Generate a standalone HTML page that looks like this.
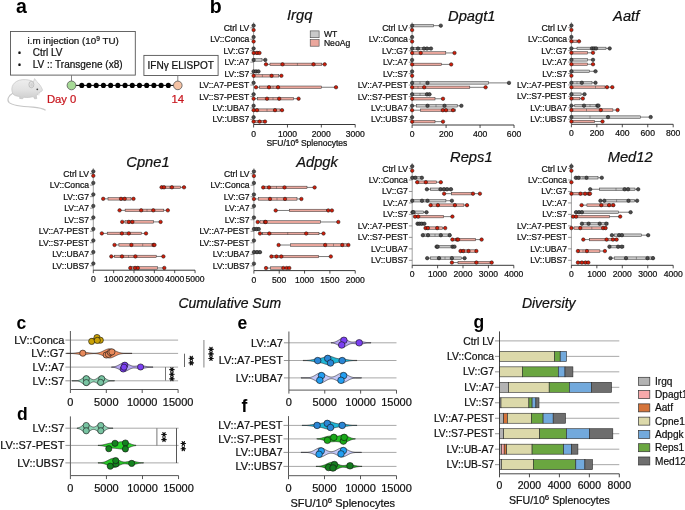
<!DOCTYPE html>
<html><head><meta charset="utf-8"><title>Figure</title>
<style>
html,body{margin:0;padding:0;background:#fff;}
body{width:685px;height:510px;overflow:hidden;}
svg{display:block;font-family:"Liberation Sans", sans-serif;will-change:transform;}
</style></head>
<body>
<svg width="685" height="510" viewBox="0 0 685 510">
<rect x="0" y="0" width="685" height="510" fill="#fff"/>
<text x="16.00" y="13.00" font-size="19.5" text-anchor="start" font-weight="bold" font-style="normal" fill="#000" stroke="#000" stroke-width="0" >a</text>
<rect x="10.50" y="31.50" width="124.80" height="43.60" fill="#fff" stroke="#555" stroke-width="0.9" />
<text x="27.6" y="44.4" font-size="9.8" fill="#111" stroke="#111" stroke-width="0.22">i.m injection (10<tspan font-size="6.6" dy="-3.6">9</tspan><tspan dy="3.6"> TU)</tspan></text>
<text x="19.40" y="56.00" font-size="8.5" text-anchor="middle" font-weight="normal" font-style="normal" fill="#111" stroke="#111" stroke-width="0.22" >•</text>
<text x="32.70" y="55.90" font-size="10" text-anchor="start" font-weight="normal" font-style="normal" fill="#111" stroke="#111" stroke-width="0.22" >Ctrl LV</text>
<text x="19.40" y="67.80" font-size="8.5" text-anchor="middle" font-weight="normal" font-style="normal" fill="#111" stroke="#111" stroke-width="0.22" >•</text>
<text x="32.70" y="67.60" font-size="10" text-anchor="start" font-weight="normal" font-style="normal" fill="#111" stroke="#111" stroke-width="0.22" >LV :: Transgene (x8)</text>
<rect x="143.90" y="55.40" width="74.20" height="20.10" fill="#fff" stroke="#555" stroke-width="0.9" />
<text x="180.70" y="68.60" font-size="10.05" text-anchor="middle" font-weight="normal" font-style="normal" fill="#111" stroke="#111" stroke-width="0.22" >IFNγ ELISPOT</text>
<line x1="71.50" y1="75.10" x2="71.50" y2="81.00" stroke="#777" stroke-width="0.9" />
<line x1="177.80" y1="75.50" x2="177.80" y2="81.00" stroke="#777" stroke-width="0.9" />
<line x1="71.50" y1="85.40" x2="177.80" y2="85.40" stroke="#000" stroke-width="1.0" />
<circle cx="81.80" cy="85.40" r="2.55" fill="#000" stroke="none" stroke-width="0.5"/>
<circle cx="89.01" cy="85.40" r="2.55" fill="#000" stroke="none" stroke-width="0.5"/>
<circle cx="96.22" cy="85.40" r="2.55" fill="#000" stroke="none" stroke-width="0.5"/>
<circle cx="103.43" cy="85.40" r="2.55" fill="#000" stroke="none" stroke-width="0.5"/>
<circle cx="110.64" cy="85.40" r="2.55" fill="#000" stroke="none" stroke-width="0.5"/>
<circle cx="117.85" cy="85.40" r="2.55" fill="#000" stroke="none" stroke-width="0.5"/>
<circle cx="125.06" cy="85.40" r="2.55" fill="#000" stroke="none" stroke-width="0.5"/>
<circle cx="132.27" cy="85.40" r="2.55" fill="#000" stroke="none" stroke-width="0.5"/>
<circle cx="139.48" cy="85.40" r="2.55" fill="#000" stroke="none" stroke-width="0.5"/>
<circle cx="146.69" cy="85.40" r="2.55" fill="#000" stroke="none" stroke-width="0.5"/>
<circle cx="153.90" cy="85.40" r="2.55" fill="#000" stroke="none" stroke-width="0.5"/>
<circle cx="161.11" cy="85.40" r="2.55" fill="#000" stroke="none" stroke-width="0.5"/>
<circle cx="168.32" cy="85.40" r="2.55" fill="#000" stroke="none" stroke-width="0.5"/>
<circle cx="71.50" cy="85.40" r="4.40" fill="#a6d996" stroke="#555" stroke-width="0.8"/>
<circle cx="177.80" cy="85.40" r="4.30" fill="#f5c2a4" stroke="#555" stroke-width="0.8"/>
<text x="46.90" y="103.30" font-size="11.3" text-anchor="start" font-weight="normal" font-style="normal" fill="#c8161e" stroke="#c8161e" stroke-width="0.22" >Day 0</text>
<text x="177.80" y="103.00" font-size="11.3" text-anchor="middle" font-weight="normal" font-style="normal" fill="#c8161e" stroke="#c8161e" stroke-width="0.22" >14</text>
<defs><linearGradient id="mg" x1="0" y1="0" x2="0" y2="1">
<stop offset="0" stop-color="#efefef"/><stop offset="0.55" stop-color="#e2e2e2"/><stop offset="1" stop-color="#cdcdcd"/></linearGradient></defs>
<g>
  <path d="M12.8,93.2 C8.2,95.6 6.6,100 9.2,102.6 C13,106 24,106.6 33,107.1 C39,107.6 43,108.6 45.6,110.2" fill="none" stroke="#c6c6c6" stroke-width="1.1"/>
  <path d="M13,94 C9.5,87 14,80.5 22,79.7 C27,79.2 31,80.3 33.5,81.8 L34.6,78.6 L36.6,81.4 C39,83.5 41.3,86.5 42.4,89.6 C42.7,90.8 41.6,91.6 40,92 C38.8,93.6 37.6,94.8 36.2,95.6 L36.8,98.6 L34.6,98.8 L33.4,96.6 C30,97.6 27,97.8 24,97.2 L22.6,98.8 L19.6,98.4 L19.8,96.6 C16.5,96.2 14,95.4 13,94 Z" fill="url(#mg)" stroke="#bdbdbd" stroke-width="0.6"/>
  <ellipse cx="31.4" cy="84.6" rx="2.5" ry="3.2" fill="#e4e4e4" stroke="#aaaaaa" stroke-width="0.6"/>
  <ellipse cx="31.6" cy="84.9" rx="1.3" ry="1.9" fill="#d2d2d2"/>
  <circle cx="37.3" cy="89.3" r="0.9" fill="#444"/>
  <path d="M37.6,93.6 L39.4,93.2 L38.9,95.4 Z" fill="#fafafa" stroke="#bbb" stroke-width="0.3"/>
</g>
<text x="209.80" y="12.90" font-size="19.5" text-anchor="start" font-weight="bold" font-style="normal" fill="#000" stroke="#000" stroke-width="0" >b</text>
<text x="287.00" y="19.60" font-size="14.7" text-anchor="start" font-weight="normal" font-style="italic" fill="#111" stroke="#111" stroke-width="0.22" >Irgq</text>
<line x1="253.60" y1="22.30" x2="253.60" y2="124.50" stroke="#8a8a8a" stroke-width="0.8" />
<line x1="250.30" y1="27.80" x2="253.60" y2="27.80" stroke="#666" stroke-width="0.7" />
<text x="249.30" y="30.80" font-size="8.6" text-anchor="end" font-weight="normal" font-style="normal" fill="#111" stroke="#111" stroke-width="0.22" >Ctrl LV</text>
<line x1="250.30" y1="39.25" x2="253.60" y2="39.25" stroke="#666" stroke-width="0.7" />
<text x="249.30" y="42.25" font-size="8.6" text-anchor="end" font-weight="normal" font-style="normal" fill="#111" stroke="#111" stroke-width="0.22" >LV::Conca</text>
<line x1="250.30" y1="50.70" x2="253.60" y2="50.70" stroke="#666" stroke-width="0.7" />
<text x="249.30" y="53.70" font-size="8.6" text-anchor="end" font-weight="normal" font-style="normal" fill="#111" stroke="#111" stroke-width="0.22" >LV::G7</text>
<line x1="250.30" y1="62.15" x2="253.60" y2="62.15" stroke="#666" stroke-width="0.7" />
<text x="249.30" y="65.15" font-size="8.6" text-anchor="end" font-weight="normal" font-style="normal" fill="#111" stroke="#111" stroke-width="0.22" >LV::A7</text>
<line x1="250.30" y1="73.60" x2="253.60" y2="73.60" stroke="#666" stroke-width="0.7" />
<text x="249.30" y="76.60" font-size="8.6" text-anchor="end" font-weight="normal" font-style="normal" fill="#111" stroke="#111" stroke-width="0.22" >LV::S7</text>
<line x1="250.30" y1="85.05" x2="253.60" y2="85.05" stroke="#666" stroke-width="0.7" />
<text x="249.30" y="88.05" font-size="8.6" text-anchor="end" font-weight="normal" font-style="normal" fill="#111" stroke="#111" stroke-width="0.22" >LV::A7-PEST</text>
<line x1="250.30" y1="96.50" x2="253.60" y2="96.50" stroke="#666" stroke-width="0.7" />
<text x="249.30" y="99.50" font-size="8.6" text-anchor="end" font-weight="normal" font-style="normal" fill="#111" stroke="#111" stroke-width="0.22" >LV::S7-PEST</text>
<line x1="250.30" y1="107.95" x2="253.60" y2="107.95" stroke="#666" stroke-width="0.7" />
<text x="249.30" y="110.95" font-size="8.6" text-anchor="end" font-weight="normal" font-style="normal" fill="#111" stroke="#111" stroke-width="0.22" >LV::UBA7</text>
<line x1="250.30" y1="119.40" x2="253.60" y2="119.40" stroke="#666" stroke-width="0.7" />
<text x="249.30" y="122.40" font-size="8.6" text-anchor="end" font-weight="normal" font-style="normal" fill="#111" stroke="#111" stroke-width="0.22" >LV::UBS7</text>
<line x1="253.60" y1="124.50" x2="355.21" y2="124.50" stroke="#222" stroke-width="0.9" />
<line x1="253.60" y1="124.50" x2="253.60" y2="127.50" stroke="#222" stroke-width="0.8" />
<text x="253.60" y="136.50" font-size="8.6" text-anchor="middle" font-weight="normal" font-style="normal" fill="#111" stroke="#111" stroke-width="0.22" >0</text>
<line x1="287.47" y1="124.50" x2="287.47" y2="127.50" stroke="#222" stroke-width="0.8" />
<text x="287.47" y="136.50" font-size="8.6" text-anchor="middle" font-weight="normal" font-style="normal" fill="#111" stroke="#111" stroke-width="0.22" >1000</text>
<line x1="321.34" y1="124.50" x2="321.34" y2="127.50" stroke="#222" stroke-width="0.8" />
<text x="321.34" y="136.50" font-size="8.6" text-anchor="middle" font-weight="normal" font-style="normal" fill="#111" stroke="#111" stroke-width="0.22" >2000</text>
<line x1="355.21" y1="124.50" x2="355.21" y2="127.50" stroke="#222" stroke-width="0.8" />
<text x="355.21" y="136.50" font-size="8.6" text-anchor="middle" font-weight="normal" font-style="normal" fill="#111" stroke="#111" stroke-width="0.22" >3000</text>
<circle cx="253.60" cy="25.60" r="1.75" fill="#4d4d4d" stroke="#111" stroke-width="0.5"/>
<circle cx="253.60" cy="30.00" r="1.75" fill="#d01e0a" stroke="#111" stroke-width="0.5"/>
<circle cx="253.60" cy="37.05" r="1.75" fill="#4d4d4d" stroke="#111" stroke-width="0.5"/>
<circle cx="253.60" cy="41.45" r="1.75" fill="#d01e0a" stroke="#111" stroke-width="0.5"/>
<circle cx="253.60" cy="48.50" r="1.75" fill="#4d4d4d" stroke="#111" stroke-width="0.5"/>
<rect x="253.60" y="51.65" width="5.40" height="2.50" fill="#eba79d" stroke="#333" stroke-width="0.5" />
<circle cx="253.60" cy="52.90" r="1.75" fill="#d01e0a" stroke="#111" stroke-width="0.5"/>
<circle cx="257.00" cy="52.90" r="1.75" fill="#d01e0a" stroke="#111" stroke-width="0.5"/>
<circle cx="259.50" cy="52.90" r="1.75" fill="#d01e0a" stroke="#111" stroke-width="0.5"/>
<line x1="253.60" y1="59.95" x2="265.30" y2="59.95" stroke="#444" stroke-width="0.7" />
<rect x="253.60" y="58.70" width="8.40" height="2.50" fill="#c9c9c9" stroke="#333" stroke-width="0.5" />
<circle cx="253.60" cy="59.95" r="1.75" fill="#4d4d4d" stroke="#111" stroke-width="0.5"/>
<circle cx="265.30" cy="59.95" r="1.75" fill="#4d4d4d" stroke="#111" stroke-width="0.5"/>
<line x1="266.00" y1="64.35" x2="324.70" y2="64.35" stroke="#444" stroke-width="0.7" />
<rect x="270.00" y="63.10" width="51.80" height="2.50" fill="#eba79d" stroke="#333" stroke-width="0.5" />
<line x1="297.40" y1="63.10" x2="297.40" y2="65.60" stroke="#444" stroke-width="0.5" />
<circle cx="266.00" cy="64.35" r="1.75" fill="#d01e0a" stroke="#111" stroke-width="0.5"/>
<circle cx="282.50" cy="64.35" r="1.75" fill="#d01e0a" stroke="#111" stroke-width="0.5"/>
<circle cx="313.50" cy="64.35" r="1.75" fill="#d01e0a" stroke="#111" stroke-width="0.5"/>
<circle cx="324.70" cy="64.35" r="1.75" fill="#d01e0a" stroke="#111" stroke-width="0.5"/>
<rect x="253.60" y="70.15" width="4.40" height="2.50" fill="#c9c9c9" stroke="#333" stroke-width="0.5" />
<circle cx="253.60" cy="71.40" r="1.75" fill="#4d4d4d" stroke="#111" stroke-width="0.5"/>
<circle cx="256.00" cy="71.40" r="1.75" fill="#4d4d4d" stroke="#111" stroke-width="0.5"/>
<circle cx="258.50" cy="71.40" r="1.75" fill="#4d4d4d" stroke="#111" stroke-width="0.5"/>
<line x1="253.60" y1="75.80" x2="281.40" y2="75.80" stroke="#444" stroke-width="0.7" />
<rect x="253.60" y="74.55" width="25.20" height="2.50" fill="#eba79d" stroke="#333" stroke-width="0.5" />
<line x1="262.40" y1="74.55" x2="262.40" y2="77.05" stroke="#444" stroke-width="0.5" />
<circle cx="253.60" cy="75.80" r="1.75" fill="#d01e0a" stroke="#111" stroke-width="0.5"/>
<circle cx="271.60" cy="75.80" r="1.75" fill="#d01e0a" stroke="#111" stroke-width="0.5"/>
<circle cx="281.40" cy="75.80" r="1.75" fill="#d01e0a" stroke="#111" stroke-width="0.5"/>
<circle cx="253.60" cy="82.85" r="1.75" fill="#4d4d4d" stroke="#111" stroke-width="0.5"/>
<line x1="256.00" y1="87.25" x2="336.00" y2="87.25" stroke="#444" stroke-width="0.7" />
<rect x="259.50" y="86.00" width="62.00" height="2.50" fill="#eba79d" stroke="#333" stroke-width="0.5" />
<line x1="273.00" y1="86.00" x2="273.00" y2="88.50" stroke="#444" stroke-width="0.5" />
<circle cx="256.00" cy="87.25" r="1.75" fill="#d01e0a" stroke="#111" stroke-width="0.5"/>
<circle cx="269.00" cy="87.25" r="1.75" fill="#d01e0a" stroke="#111" stroke-width="0.5"/>
<circle cx="278.00" cy="87.25" r="1.75" fill="#d01e0a" stroke="#111" stroke-width="0.5"/>
<circle cx="336.00" cy="87.25" r="1.75" fill="#d01e0a" stroke="#111" stroke-width="0.5"/>
<circle cx="253.60" cy="94.30" r="1.75" fill="#4d4d4d" stroke="#111" stroke-width="0.5"/>
<line x1="253.60" y1="98.70" x2="298.60" y2="98.70" stroke="#444" stroke-width="0.7" />
<rect x="257.30" y="97.45" width="36.40" height="2.50" fill="#eba79d" stroke="#333" stroke-width="0.5" />
<line x1="273.00" y1="97.45" x2="273.00" y2="99.95" stroke="#444" stroke-width="0.5" />
<circle cx="253.60" cy="98.70" r="1.75" fill="#d01e0a" stroke="#111" stroke-width="0.5"/>
<circle cx="267.00" cy="98.70" r="1.75" fill="#d01e0a" stroke="#111" stroke-width="0.5"/>
<circle cx="279.20" cy="98.70" r="1.75" fill="#d01e0a" stroke="#111" stroke-width="0.5"/>
<circle cx="298.60" cy="98.70" r="1.75" fill="#d01e0a" stroke="#111" stroke-width="0.5"/>
<circle cx="253.60" cy="105.75" r="1.75" fill="#4d4d4d" stroke="#111" stroke-width="0.5"/>
<line x1="253.60" y1="110.15" x2="282.00" y2="110.15" stroke="#444" stroke-width="0.7" />
<rect x="253.60" y="108.90" width="26.40" height="2.50" fill="#eba79d" stroke="#333" stroke-width="0.5" />
<line x1="267.00" y1="108.90" x2="267.00" y2="111.40" stroke="#444" stroke-width="0.5" />
<circle cx="253.60" cy="110.15" r="1.75" fill="#d01e0a" stroke="#111" stroke-width="0.5"/>
<circle cx="257.00" cy="110.15" r="1.75" fill="#d01e0a" stroke="#111" stroke-width="0.5"/>
<circle cx="275.00" cy="110.15" r="1.75" fill="#d01e0a" stroke="#111" stroke-width="0.5"/>
<circle cx="282.00" cy="110.15" r="1.75" fill="#d01e0a" stroke="#111" stroke-width="0.5"/>
<circle cx="253.60" cy="117.20" r="1.75" fill="#4d4d4d" stroke="#111" stroke-width="0.5"/>
<rect x="253.60" y="120.35" width="11.40" height="2.50" fill="#eba79d" stroke="#333" stroke-width="0.5" />
<line x1="258.00" y1="120.35" x2="258.00" y2="122.85" stroke="#444" stroke-width="0.5" />
<circle cx="253.60" cy="121.60" r="1.75" fill="#d01e0a" stroke="#111" stroke-width="0.5"/>
<circle cx="259.60" cy="121.60" r="1.75" fill="#d01e0a" stroke="#111" stroke-width="0.5"/>
<circle cx="265.00" cy="121.60" r="1.75" fill="#d01e0a" stroke="#111" stroke-width="0.5"/>
<text x="448.10" y="20.60" font-size="14.7" text-anchor="start" font-weight="normal" font-style="italic" fill="#111" stroke="#111" stroke-width="0.22" >Dpagt1</text>
<line x1="412.10" y1="22.35" x2="412.10" y2="125.00" stroke="#8a8a8a" stroke-width="0.8" />
<line x1="408.80" y1="27.85" x2="412.10" y2="27.85" stroke="#666" stroke-width="0.7" />
<text x="407.80" y="30.85" font-size="8.6" text-anchor="end" font-weight="normal" font-style="normal" fill="#111" stroke="#111" stroke-width="0.22" >Ctrl LV</text>
<line x1="408.80" y1="39.30" x2="412.10" y2="39.30" stroke="#666" stroke-width="0.7" />
<text x="407.80" y="42.30" font-size="8.6" text-anchor="end" font-weight="normal" font-style="normal" fill="#111" stroke="#111" stroke-width="0.22" >LV::Conca</text>
<line x1="408.80" y1="50.75" x2="412.10" y2="50.75" stroke="#666" stroke-width="0.7" />
<text x="407.80" y="53.75" font-size="8.6" text-anchor="end" font-weight="normal" font-style="normal" fill="#111" stroke="#111" stroke-width="0.22" >LV::G7</text>
<line x1="408.80" y1="62.20" x2="412.10" y2="62.20" stroke="#666" stroke-width="0.7" />
<text x="407.80" y="65.20" font-size="8.6" text-anchor="end" font-weight="normal" font-style="normal" fill="#111" stroke="#111" stroke-width="0.22" >LV::A7</text>
<line x1="408.80" y1="73.65" x2="412.10" y2="73.65" stroke="#666" stroke-width="0.7" />
<text x="407.80" y="76.65" font-size="8.6" text-anchor="end" font-weight="normal" font-style="normal" fill="#111" stroke="#111" stroke-width="0.22" >LV::S7</text>
<line x1="408.80" y1="85.10" x2="412.10" y2="85.10" stroke="#666" stroke-width="0.7" />
<text x="407.80" y="88.10" font-size="8.6" text-anchor="end" font-weight="normal" font-style="normal" fill="#111" stroke="#111" stroke-width="0.22" >LV::A7-PEST</text>
<line x1="408.80" y1="96.55" x2="412.10" y2="96.55" stroke="#666" stroke-width="0.7" />
<text x="407.80" y="99.55" font-size="8.6" text-anchor="end" font-weight="normal" font-style="normal" fill="#111" stroke="#111" stroke-width="0.22" >LV::S7-PEST</text>
<line x1="408.80" y1="108.00" x2="412.10" y2="108.00" stroke="#666" stroke-width="0.7" />
<text x="407.80" y="111.00" font-size="8.6" text-anchor="end" font-weight="normal" font-style="normal" fill="#111" stroke="#111" stroke-width="0.22" >LV::UBA7</text>
<line x1="408.80" y1="119.45" x2="412.10" y2="119.45" stroke="#666" stroke-width="0.7" />
<text x="407.80" y="122.45" font-size="8.6" text-anchor="end" font-weight="normal" font-style="normal" fill="#111" stroke="#111" stroke-width="0.22" >LV::UBS7</text>
<line x1="412.10" y1="125.00" x2="514.04" y2="125.00" stroke="#222" stroke-width="0.9" />
<line x1="412.10" y1="125.00" x2="412.10" y2="128.00" stroke="#222" stroke-width="0.8" />
<text x="412.10" y="137.00" font-size="8.6" text-anchor="middle" font-weight="normal" font-style="normal" fill="#111" stroke="#111" stroke-width="0.22" >0</text>
<line x1="446.08" y1="125.00" x2="446.08" y2="128.00" stroke="#222" stroke-width="0.8" />
<text x="446.08" y="137.00" font-size="8.6" text-anchor="middle" font-weight="normal" font-style="normal" fill="#111" stroke="#111" stroke-width="0.22" >200</text>
<line x1="480.06" y1="125.00" x2="480.06" y2="128.00" stroke="#222" stroke-width="0.8" />
<text x="480.06" y="137.00" font-size="8.6" text-anchor="middle" font-weight="normal" font-style="normal" fill="#111" stroke="#111" stroke-width="0.22" >400</text>
<line x1="514.04" y1="125.00" x2="514.04" y2="128.00" stroke="#222" stroke-width="0.8" />
<text x="514.04" y="137.00" font-size="8.6" text-anchor="middle" font-weight="normal" font-style="normal" fill="#111" stroke="#111" stroke-width="0.22" >600</text>
<line x1="412.10" y1="25.65" x2="440.80" y2="25.65" stroke="#444" stroke-width="0.7" />
<rect x="412.10" y="24.40" width="21.40" height="2.50" fill="#c9c9c9" stroke="#333" stroke-width="0.5" />
<circle cx="412.10" cy="25.65" r="1.75" fill="#4d4d4d" stroke="#111" stroke-width="0.5"/>
<circle cx="440.80" cy="25.65" r="1.75" fill="#4d4d4d" stroke="#111" stroke-width="0.5"/>
<circle cx="412.10" cy="30.05" r="1.75" fill="#d01e0a" stroke="#111" stroke-width="0.5"/>
<circle cx="412.10" cy="37.10" r="1.75" fill="#4d4d4d" stroke="#111" stroke-width="0.5"/>
<circle cx="412.10" cy="41.50" r="1.75" fill="#d01e0a" stroke="#111" stroke-width="0.5"/>
<rect x="412.10" y="47.30" width="18.10" height="2.50" fill="#c9c9c9" stroke="#333" stroke-width="0.5" />
<circle cx="412.10" cy="48.55" r="1.75" fill="#4d4d4d" stroke="#111" stroke-width="0.5"/>
<circle cx="418.00" cy="48.55" r="1.75" fill="#4d4d4d" stroke="#111" stroke-width="0.5"/>
<circle cx="424.00" cy="48.55" r="1.75" fill="#4d4d4d" stroke="#111" stroke-width="0.5"/>
<circle cx="427.00" cy="48.55" r="1.75" fill="#4d4d4d" stroke="#111" stroke-width="0.5"/>
<circle cx="431.00" cy="48.55" r="1.75" fill="#4d4d4d" stroke="#111" stroke-width="0.5"/>
<line x1="412.10" y1="52.95" x2="454.50" y2="52.95" stroke="#444" stroke-width="0.7" />
<rect x="412.10" y="51.70" width="33.70" height="2.50" fill="#eba79d" stroke="#333" stroke-width="0.5" />
<circle cx="412.10" cy="52.95" r="1.75" fill="#d01e0a" stroke="#111" stroke-width="0.5"/>
<circle cx="420.70" cy="52.95" r="1.75" fill="#d01e0a" stroke="#111" stroke-width="0.5"/>
<circle cx="454.50" cy="52.95" r="1.75" fill="#d01e0a" stroke="#111" stroke-width="0.5"/>
<circle cx="412.10" cy="60.00" r="1.75" fill="#4d4d4d" stroke="#111" stroke-width="0.5"/>
<line x1="412.10" y1="64.40" x2="451.20" y2="64.40" stroke="#444" stroke-width="0.7" />
<rect x="412.10" y="63.15" width="29.30" height="2.50" fill="#eba79d" stroke="#333" stroke-width="0.5" />
<circle cx="412.10" cy="64.40" r="1.75" fill="#d01e0a" stroke="#111" stroke-width="0.5"/>
<circle cx="451.20" cy="64.40" r="1.75" fill="#d01e0a" stroke="#111" stroke-width="0.5"/>
<circle cx="412.10" cy="71.45" r="1.75" fill="#4d4d4d" stroke="#111" stroke-width="0.5"/>
<circle cx="412.10" cy="75.85" r="1.75" fill="#d01e0a" stroke="#111" stroke-width="0.5"/>
<line x1="412.10" y1="82.90" x2="509.00" y2="82.90" stroke="#444" stroke-width="0.7" />
<rect x="412.10" y="81.65" width="76.30" height="2.50" fill="#c9c9c9" stroke="#333" stroke-width="0.5" />
<line x1="420.00" y1="81.65" x2="420.00" y2="84.15" stroke="#444" stroke-width="0.5" />
<circle cx="412.10" cy="82.90" r="1.75" fill="#4d4d4d" stroke="#111" stroke-width="0.5"/>
<circle cx="427.50" cy="82.90" r="1.75" fill="#4d4d4d" stroke="#111" stroke-width="0.5"/>
<circle cx="509.00" cy="82.90" r="1.75" fill="#4d4d4d" stroke="#111" stroke-width="0.5"/>
<line x1="412.10" y1="87.30" x2="485.60" y2="87.30" stroke="#444" stroke-width="0.7" />
<rect x="412.10" y="86.05" width="57.70" height="2.50" fill="#eba79d" stroke="#333" stroke-width="0.5" />
<line x1="418.00" y1="86.05" x2="418.00" y2="88.55" stroke="#444" stroke-width="0.5" />
<circle cx="412.10" cy="87.30" r="1.75" fill="#d01e0a" stroke="#111" stroke-width="0.5"/>
<circle cx="424.20" cy="87.30" r="1.75" fill="#d01e0a" stroke="#111" stroke-width="0.5"/>
<circle cx="485.60" cy="87.30" r="1.75" fill="#d01e0a" stroke="#111" stroke-width="0.5"/>
<rect x="412.10" y="93.10" width="18.40" height="2.50" fill="#c9c9c9" stroke="#333" stroke-width="0.5" />
<line x1="420.00" y1="93.10" x2="420.00" y2="95.60" stroke="#444" stroke-width="0.5" />
<circle cx="412.10" cy="94.35" r="1.75" fill="#4d4d4d" stroke="#111" stroke-width="0.5"/>
<circle cx="427.00" cy="94.35" r="1.75" fill="#4d4d4d" stroke="#111" stroke-width="0.5"/>
<circle cx="429.50" cy="94.35" r="1.75" fill="#4d4d4d" stroke="#111" stroke-width="0.5"/>
<line x1="412.10" y1="98.75" x2="443.00" y2="98.75" stroke="#444" stroke-width="0.7" />
<rect x="412.10" y="97.50" width="22.90" height="2.50" fill="#eba79d" stroke="#333" stroke-width="0.5" />
<circle cx="412.10" cy="98.75" r="1.75" fill="#d01e0a" stroke="#111" stroke-width="0.5"/>
<circle cx="443.00" cy="98.75" r="1.75" fill="#d01e0a" stroke="#111" stroke-width="0.5"/>
<line x1="412.10" y1="105.80" x2="461.40" y2="105.80" stroke="#444" stroke-width="0.7" />
<rect x="416.30" y="104.55" width="40.90" height="2.50" fill="#c9c9c9" stroke="#333" stroke-width="0.5" />
<line x1="436.00" y1="104.55" x2="436.00" y2="107.05" stroke="#444" stroke-width="0.5" />
<circle cx="412.10" cy="105.80" r="1.75" fill="#4d4d4d" stroke="#111" stroke-width="0.5"/>
<circle cx="427.50" cy="105.80" r="1.75" fill="#4d4d4d" stroke="#111" stroke-width="0.5"/>
<circle cx="444.50" cy="105.80" r="1.75" fill="#4d4d4d" stroke="#111" stroke-width="0.5"/>
<circle cx="461.40" cy="105.80" r="1.75" fill="#4d4d4d" stroke="#111" stroke-width="0.5"/>
<line x1="412.10" y1="110.20" x2="455.50" y2="110.20" stroke="#444" stroke-width="0.7" />
<rect x="420.40" y="108.95" width="35.10" height="2.50" fill="#eba79d" stroke="#333" stroke-width="0.5" />
<circle cx="412.10" cy="110.20" r="1.75" fill="#d01e0a" stroke="#111" stroke-width="0.5"/>
<circle cx="442.80" cy="110.20" r="1.75" fill="#d01e0a" stroke="#111" stroke-width="0.5"/>
<circle cx="446.00" cy="110.20" r="1.75" fill="#d01e0a" stroke="#111" stroke-width="0.5"/>
<circle cx="453.00" cy="110.20" r="1.75" fill="#d01e0a" stroke="#111" stroke-width="0.5"/>
<circle cx="412.10" cy="117.25" r="1.75" fill="#4d4d4d" stroke="#111" stroke-width="0.5"/>
<line x1="412.10" y1="121.65" x2="443.00" y2="121.65" stroke="#444" stroke-width="0.7" />
<rect x="412.10" y="120.40" width="22.90" height="2.50" fill="#eba79d" stroke="#333" stroke-width="0.5" />
<circle cx="412.10" cy="121.65" r="1.75" fill="#d01e0a" stroke="#111" stroke-width="0.5"/>
<circle cx="443.00" cy="121.65" r="1.75" fill="#d01e0a" stroke="#111" stroke-width="0.5"/>
<text x="613.10" y="20.80" font-size="14.7" text-anchor="start" font-weight="normal" font-style="italic" fill="#111" stroke="#111" stroke-width="0.22" >Aatf</text>
<line x1="571.40" y1="22.20" x2="571.40" y2="124.30" stroke="#8a8a8a" stroke-width="0.8" />
<line x1="568.10" y1="27.70" x2="571.40" y2="27.70" stroke="#666" stroke-width="0.7" />
<text x="567.10" y="30.70" font-size="8.6" text-anchor="end" font-weight="normal" font-style="normal" fill="#111" stroke="#111" stroke-width="0.22" >Ctrl LV</text>
<line x1="568.10" y1="39.15" x2="571.40" y2="39.15" stroke="#666" stroke-width="0.7" />
<text x="567.10" y="42.15" font-size="8.6" text-anchor="end" font-weight="normal" font-style="normal" fill="#111" stroke="#111" stroke-width="0.22" >LV::Conca</text>
<line x1="568.10" y1="50.60" x2="571.40" y2="50.60" stroke="#666" stroke-width="0.7" />
<text x="567.10" y="53.60" font-size="8.6" text-anchor="end" font-weight="normal" font-style="normal" fill="#111" stroke="#111" stroke-width="0.22" >LV::G7</text>
<line x1="568.10" y1="62.05" x2="571.40" y2="62.05" stroke="#666" stroke-width="0.7" />
<text x="567.10" y="65.05" font-size="8.6" text-anchor="end" font-weight="normal" font-style="normal" fill="#111" stroke="#111" stroke-width="0.22" >LV::A7</text>
<line x1="568.10" y1="73.50" x2="571.40" y2="73.50" stroke="#666" stroke-width="0.7" />
<text x="567.10" y="76.50" font-size="8.6" text-anchor="end" font-weight="normal" font-style="normal" fill="#111" stroke="#111" stroke-width="0.22" >LV::S7</text>
<line x1="568.10" y1="84.95" x2="571.40" y2="84.95" stroke="#666" stroke-width="0.7" />
<text x="567.10" y="87.95" font-size="8.6" text-anchor="end" font-weight="normal" font-style="normal" fill="#111" stroke="#111" stroke-width="0.22" >LV::A7-PEST</text>
<line x1="568.10" y1="96.40" x2="571.40" y2="96.40" stroke="#666" stroke-width="0.7" />
<text x="567.10" y="99.40" font-size="8.6" text-anchor="end" font-weight="normal" font-style="normal" fill="#111" stroke="#111" stroke-width="0.22" >LV::S7-PEST</text>
<line x1="568.10" y1="107.85" x2="571.40" y2="107.85" stroke="#666" stroke-width="0.7" />
<text x="567.10" y="110.85" font-size="8.6" text-anchor="end" font-weight="normal" font-style="normal" fill="#111" stroke="#111" stroke-width="0.22" >LV::UBA7</text>
<line x1="568.10" y1="119.30" x2="571.40" y2="119.30" stroke="#666" stroke-width="0.7" />
<text x="567.10" y="122.30" font-size="8.6" text-anchor="end" font-weight="normal" font-style="normal" fill="#111" stroke="#111" stroke-width="0.22" >LV::UBS7</text>
<line x1="571.40" y1="124.30" x2="673.20" y2="124.30" stroke="#222" stroke-width="0.9" />
<line x1="571.40" y1="124.30" x2="571.40" y2="127.30" stroke="#222" stroke-width="0.8" />
<text x="571.40" y="136.30" font-size="8.6" text-anchor="middle" font-weight="normal" font-style="normal" fill="#111" stroke="#111" stroke-width="0.22" >0</text>
<line x1="596.85" y1="124.30" x2="596.85" y2="127.30" stroke="#222" stroke-width="0.8" />
<text x="596.85" y="136.30" font-size="8.6" text-anchor="middle" font-weight="normal" font-style="normal" fill="#111" stroke="#111" stroke-width="0.22" >200</text>
<line x1="622.30" y1="124.30" x2="622.30" y2="127.30" stroke="#222" stroke-width="0.8" />
<text x="622.30" y="136.30" font-size="8.6" text-anchor="middle" font-weight="normal" font-style="normal" fill="#111" stroke="#111" stroke-width="0.22" >400</text>
<line x1="647.75" y1="124.30" x2="647.75" y2="127.30" stroke="#222" stroke-width="0.8" />
<text x="647.75" y="136.30" font-size="8.6" text-anchor="middle" font-weight="normal" font-style="normal" fill="#111" stroke="#111" stroke-width="0.22" >600</text>
<line x1="673.20" y1="124.30" x2="673.20" y2="127.30" stroke="#222" stroke-width="0.8" />
<text x="673.20" y="136.30" font-size="8.6" text-anchor="middle" font-weight="normal" font-style="normal" fill="#111" stroke="#111" stroke-width="0.22" >800</text>
<circle cx="571.40" cy="25.50" r="1.75" fill="#4d4d4d" stroke="#111" stroke-width="0.5"/>
<circle cx="571.40" cy="29.90" r="1.75" fill="#d01e0a" stroke="#111" stroke-width="0.5"/>
<circle cx="571.40" cy="36.95" r="1.75" fill="#4d4d4d" stroke="#111" stroke-width="0.5"/>
<line x1="571.40" y1="41.35" x2="579.00" y2="41.35" stroke="#444" stroke-width="0.7" />
<rect x="571.40" y="40.10" width="5.60" height="2.50" fill="#eba79d" stroke="#333" stroke-width="0.5" />
<circle cx="571.40" cy="41.35" r="1.75" fill="#d01e0a" stroke="#111" stroke-width="0.5"/>
<circle cx="579.00" cy="41.35" r="1.75" fill="#d01e0a" stroke="#111" stroke-width="0.5"/>
<line x1="571.40" y1="48.40" x2="609.70" y2="48.40" stroke="#444" stroke-width="0.7" />
<rect x="577.00" y="47.15" width="29.00" height="2.50" fill="#c9c9c9" stroke="#333" stroke-width="0.5" />
<circle cx="571.40" cy="48.40" r="1.75" fill="#4d4d4d" stroke="#111" stroke-width="0.5"/>
<circle cx="592.00" cy="48.40" r="1.75" fill="#4d4d4d" stroke="#111" stroke-width="0.5"/>
<circle cx="594.00" cy="48.40" r="1.75" fill="#4d4d4d" stroke="#111" stroke-width="0.5"/>
<circle cx="596.00" cy="48.40" r="1.75" fill="#4d4d4d" stroke="#111" stroke-width="0.5"/>
<circle cx="609.70" cy="48.40" r="1.75" fill="#4d4d4d" stroke="#111" stroke-width="0.5"/>
<line x1="571.40" y1="52.80" x2="593.00" y2="52.80" stroke="#444" stroke-width="0.7" />
<rect x="571.40" y="51.55" width="16.20" height="2.50" fill="#eba79d" stroke="#333" stroke-width="0.5" />
<circle cx="571.40" cy="52.80" r="1.75" fill="#d01e0a" stroke="#111" stroke-width="0.5"/>
<circle cx="593.00" cy="52.80" r="1.75" fill="#d01e0a" stroke="#111" stroke-width="0.5"/>
<line x1="571.40" y1="59.85" x2="593.00" y2="59.85" stroke="#444" stroke-width="0.7" />
<rect x="571.40" y="58.60" width="16.20" height="2.50" fill="#c9c9c9" stroke="#333" stroke-width="0.5" />
<circle cx="571.40" cy="59.85" r="1.75" fill="#4d4d4d" stroke="#111" stroke-width="0.5"/>
<circle cx="593.00" cy="59.85" r="1.75" fill="#4d4d4d" stroke="#111" stroke-width="0.5"/>
<line x1="571.40" y1="64.25" x2="593.00" y2="64.25" stroke="#444" stroke-width="0.7" />
<rect x="571.40" y="63.00" width="16.20" height="2.50" fill="#eba79d" stroke="#333" stroke-width="0.5" />
<circle cx="571.40" cy="64.25" r="1.75" fill="#d01e0a" stroke="#111" stroke-width="0.5"/>
<circle cx="593.00" cy="64.25" r="1.75" fill="#d01e0a" stroke="#111" stroke-width="0.5"/>
<line x1="571.40" y1="71.30" x2="595.50" y2="71.30" stroke="#444" stroke-width="0.7" />
<rect x="571.40" y="70.05" width="18.10" height="2.50" fill="#c9c9c9" stroke="#333" stroke-width="0.5" />
<circle cx="571.40" cy="71.30" r="1.75" fill="#4d4d4d" stroke="#111" stroke-width="0.5"/>
<circle cx="595.50" cy="71.30" r="1.75" fill="#4d4d4d" stroke="#111" stroke-width="0.5"/>
<circle cx="571.40" cy="75.70" r="1.75" fill="#d01e0a" stroke="#111" stroke-width="0.5"/>
<line x1="571.40" y1="82.75" x2="595.50" y2="82.75" stroke="#444" stroke-width="0.7" />
<rect x="571.40" y="81.50" width="20.60" height="2.50" fill="#c9c9c9" stroke="#333" stroke-width="0.5" />
<line x1="577.00" y1="81.50" x2="577.00" y2="84.00" stroke="#444" stroke-width="0.5" />
<circle cx="571.40" cy="82.75" r="1.75" fill="#4d4d4d" stroke="#111" stroke-width="0.5"/>
<circle cx="581.80" cy="82.75" r="1.75" fill="#4d4d4d" stroke="#111" stroke-width="0.5"/>
<circle cx="595.50" cy="82.75" r="1.75" fill="#4d4d4d" stroke="#111" stroke-width="0.5"/>
<line x1="571.40" y1="87.15" x2="612.30" y2="87.15" stroke="#444" stroke-width="0.7" />
<rect x="571.40" y="85.90" width="33.60" height="2.50" fill="#eba79d" stroke="#333" stroke-width="0.5" />
<line x1="595.50" y1="85.90" x2="595.50" y2="88.40" stroke="#444" stroke-width="0.5" />
<circle cx="571.40" cy="87.15" r="1.75" fill="#d01e0a" stroke="#111" stroke-width="0.5"/>
<circle cx="607.00" cy="87.15" r="1.75" fill="#d01e0a" stroke="#111" stroke-width="0.5"/>
<circle cx="612.30" cy="87.15" r="1.75" fill="#d01e0a" stroke="#111" stroke-width="0.5"/>
<line x1="571.40" y1="94.20" x2="584.50" y2="94.20" stroke="#444" stroke-width="0.7" />
<rect x="571.40" y="92.95" width="9.70" height="2.50" fill="#c9c9c9" stroke="#333" stroke-width="0.5" />
<circle cx="571.40" cy="94.20" r="1.75" fill="#4d4d4d" stroke="#111" stroke-width="0.5"/>
<circle cx="584.50" cy="94.20" r="1.75" fill="#4d4d4d" stroke="#111" stroke-width="0.5"/>
<line x1="571.40" y1="98.60" x2="582.80" y2="98.60" stroke="#444" stroke-width="0.7" />
<rect x="571.40" y="97.35" width="8.50" height="2.50" fill="#eba79d" stroke="#333" stroke-width="0.5" />
<circle cx="571.40" cy="98.60" r="1.75" fill="#d01e0a" stroke="#111" stroke-width="0.5"/>
<circle cx="582.80" cy="98.60" r="1.75" fill="#d01e0a" stroke="#111" stroke-width="0.5"/>
<line x1="571.40" y1="105.65" x2="598.90" y2="105.65" stroke="#444" stroke-width="0.7" />
<rect x="574.80" y="104.40" width="24.10" height="2.50" fill="#c9c9c9" stroke="#333" stroke-width="0.5" />
<line x1="590.00" y1="104.40" x2="590.00" y2="106.90" stroke="#444" stroke-width="0.5" />
<circle cx="571.40" cy="105.65" r="1.75" fill="#4d4d4d" stroke="#111" stroke-width="0.5"/>
<circle cx="584.00" cy="105.65" r="1.75" fill="#4d4d4d" stroke="#111" stroke-width="0.5"/>
<circle cx="597.40" cy="105.65" r="1.75" fill="#4d4d4d" stroke="#111" stroke-width="0.5"/>
<circle cx="598.50" cy="105.65" r="1.75" fill="#4d4d4d" stroke="#111" stroke-width="0.5"/>
<line x1="571.40" y1="110.05" x2="617.60" y2="110.05" stroke="#444" stroke-width="0.7" />
<rect x="571.40" y="108.80" width="41.50" height="2.50" fill="#eba79d" stroke="#333" stroke-width="0.5" />
<line x1="586.50" y1="108.80" x2="586.50" y2="111.30" stroke="#444" stroke-width="0.5" />
<circle cx="571.40" cy="110.05" r="1.75" fill="#d01e0a" stroke="#111" stroke-width="0.5"/>
<circle cx="600.80" cy="110.05" r="1.75" fill="#d01e0a" stroke="#111" stroke-width="0.5"/>
<circle cx="617.60" cy="110.05" r="1.75" fill="#d01e0a" stroke="#111" stroke-width="0.5"/>
<line x1="571.40" y1="117.10" x2="650.70" y2="117.10" stroke="#444" stroke-width="0.7" />
<rect x="571.40" y="115.85" width="69.30" height="2.50" fill="#c9c9c9" stroke="#333" stroke-width="0.5" />
<line x1="590.00" y1="115.85" x2="590.00" y2="118.35" stroke="#444" stroke-width="0.5" />
<circle cx="571.40" cy="117.10" r="1.75" fill="#4d4d4d" stroke="#111" stroke-width="0.5"/>
<circle cx="608.00" cy="117.10" r="1.75" fill="#4d4d4d" stroke="#111" stroke-width="0.5"/>
<circle cx="650.70" cy="117.10" r="1.75" fill="#4d4d4d" stroke="#111" stroke-width="0.5"/>
<line x1="571.40" y1="121.50" x2="602.50" y2="121.50" stroke="#444" stroke-width="0.7" />
<rect x="571.40" y="120.25" width="23.10" height="2.50" fill="#eba79d" stroke="#333" stroke-width="0.5" />
<circle cx="571.40" cy="121.50" r="1.75" fill="#d01e0a" stroke="#111" stroke-width="0.5"/>
<circle cx="602.50" cy="121.50" r="1.75" fill="#d01e0a" stroke="#111" stroke-width="0.5"/>
<text x="126.30" y="166.50" font-size="14.7" text-anchor="start" font-weight="normal" font-style="italic" fill="#111" stroke="#111" stroke-width="0.22" >Cpne1</text>
<line x1="93.30" y1="168.10" x2="93.30" y2="270.20" stroke="#8a8a8a" stroke-width="0.8" />
<line x1="90.00" y1="173.60" x2="93.30" y2="173.60" stroke="#666" stroke-width="0.7" />
<text x="89.00" y="176.60" font-size="8.6" text-anchor="end" font-weight="normal" font-style="normal" fill="#111" stroke="#111" stroke-width="0.22" >Ctrl LV</text>
<line x1="90.00" y1="185.12" x2="93.30" y2="185.12" stroke="#666" stroke-width="0.7" />
<text x="89.00" y="188.12" font-size="8.6" text-anchor="end" font-weight="normal" font-style="normal" fill="#111" stroke="#111" stroke-width="0.22" >LV::Conca</text>
<line x1="90.00" y1="196.64" x2="93.30" y2="196.64" stroke="#666" stroke-width="0.7" />
<text x="89.00" y="199.64" font-size="8.6" text-anchor="end" font-weight="normal" font-style="normal" fill="#111" stroke="#111" stroke-width="0.22" >LV::G7</text>
<line x1="90.00" y1="208.16" x2="93.30" y2="208.16" stroke="#666" stroke-width="0.7" />
<text x="89.00" y="211.16" font-size="8.6" text-anchor="end" font-weight="normal" font-style="normal" fill="#111" stroke="#111" stroke-width="0.22" >LV::A7</text>
<line x1="90.00" y1="219.68" x2="93.30" y2="219.68" stroke="#666" stroke-width="0.7" />
<text x="89.00" y="222.68" font-size="8.6" text-anchor="end" font-weight="normal" font-style="normal" fill="#111" stroke="#111" stroke-width="0.22" >LV::S7</text>
<line x1="90.00" y1="231.20" x2="93.30" y2="231.20" stroke="#666" stroke-width="0.7" />
<text x="89.00" y="234.20" font-size="8.6" text-anchor="end" font-weight="normal" font-style="normal" fill="#111" stroke="#111" stroke-width="0.22" >LV::A7-PEST</text>
<line x1="90.00" y1="242.72" x2="93.30" y2="242.72" stroke="#666" stroke-width="0.7" />
<text x="89.00" y="245.72" font-size="8.6" text-anchor="end" font-weight="normal" font-style="normal" fill="#111" stroke="#111" stroke-width="0.22" >LV::S7-PEST</text>
<line x1="90.00" y1="254.24" x2="93.30" y2="254.24" stroke="#666" stroke-width="0.7" />
<text x="89.00" y="257.24" font-size="8.6" text-anchor="end" font-weight="normal" font-style="normal" fill="#111" stroke="#111" stroke-width="0.22" >LV::UBA7</text>
<line x1="90.00" y1="265.76" x2="93.30" y2="265.76" stroke="#666" stroke-width="0.7" />
<text x="89.00" y="268.76" font-size="8.6" text-anchor="end" font-weight="normal" font-style="normal" fill="#111" stroke="#111" stroke-width="0.22" >LV::UBS7</text>
<line x1="93.30" y1="270.20" x2="195.05" y2="270.20" stroke="#222" stroke-width="0.9" />
<line x1="93.30" y1="270.20" x2="93.30" y2="273.20" stroke="#222" stroke-width="0.8" />
<text x="93.30" y="282.20" font-size="8.6" text-anchor="middle" font-weight="normal" font-style="normal" fill="#111" stroke="#111" stroke-width="0.22" >0</text>
<line x1="113.65" y1="270.20" x2="113.65" y2="273.20" stroke="#222" stroke-width="0.8" />
<text x="113.65" y="282.20" font-size="8.6" text-anchor="middle" font-weight="normal" font-style="normal" fill="#111" stroke="#111" stroke-width="0.22" >1000</text>
<line x1="134.00" y1="270.20" x2="134.00" y2="273.20" stroke="#222" stroke-width="0.8" />
<text x="134.00" y="282.20" font-size="8.6" text-anchor="middle" font-weight="normal" font-style="normal" fill="#111" stroke="#111" stroke-width="0.22" >2000</text>
<line x1="154.35" y1="270.20" x2="154.35" y2="273.20" stroke="#222" stroke-width="0.8" />
<text x="154.35" y="282.20" font-size="8.6" text-anchor="middle" font-weight="normal" font-style="normal" fill="#111" stroke="#111" stroke-width="0.22" >3000</text>
<line x1="174.70" y1="270.20" x2="174.70" y2="273.20" stroke="#222" stroke-width="0.8" />
<text x="174.70" y="282.20" font-size="8.6" text-anchor="middle" font-weight="normal" font-style="normal" fill="#111" stroke="#111" stroke-width="0.22" >4000</text>
<line x1="195.05" y1="270.20" x2="195.05" y2="273.20" stroke="#222" stroke-width="0.8" />
<text x="195.05" y="282.20" font-size="8.6" text-anchor="middle" font-weight="normal" font-style="normal" fill="#111" stroke="#111" stroke-width="0.22" >5000</text>
<circle cx="93.30" cy="171.40" r="1.75" fill="#4d4d4d" stroke="#111" stroke-width="0.5"/>
<circle cx="93.30" cy="175.80" r="1.75" fill="#d01e0a" stroke="#111" stroke-width="0.5"/>
<circle cx="93.30" cy="182.92" r="1.75" fill="#4d4d4d" stroke="#111" stroke-width="0.5"/>
<line x1="161.60" y1="187.32" x2="184.00" y2="187.32" stroke="#444" stroke-width="0.7" />
<rect x="161.60" y="186.07" width="19.00" height="2.50" fill="#eba79d" stroke="#333" stroke-width="0.5" />
<line x1="170.00" y1="186.07" x2="170.00" y2="188.57" stroke="#444" stroke-width="0.5" />
<circle cx="161.60" cy="187.32" r="1.75" fill="#d01e0a" stroke="#111" stroke-width="0.5"/>
<circle cx="164.00" cy="187.32" r="1.75" fill="#d01e0a" stroke="#111" stroke-width="0.5"/>
<circle cx="171.90" cy="187.32" r="1.75" fill="#d01e0a" stroke="#111" stroke-width="0.5"/>
<circle cx="184.00" cy="187.32" r="1.75" fill="#d01e0a" stroke="#111" stroke-width="0.5"/>
<circle cx="93.30" cy="194.44" r="1.75" fill="#4d4d4d" stroke="#111" stroke-width="0.5"/>
<line x1="103.20" y1="198.84" x2="133.50" y2="198.84" stroke="#444" stroke-width="0.7" />
<rect x="108.00" y="197.59" width="23.00" height="2.50" fill="#eba79d" stroke="#333" stroke-width="0.5" />
<line x1="122.00" y1="197.59" x2="122.00" y2="200.09" stroke="#444" stroke-width="0.5" />
<circle cx="103.20" cy="198.84" r="1.75" fill="#d01e0a" stroke="#111" stroke-width="0.5"/>
<circle cx="121.00" cy="198.84" r="1.75" fill="#d01e0a" stroke="#111" stroke-width="0.5"/>
<circle cx="124.70" cy="198.84" r="1.75" fill="#d01e0a" stroke="#111" stroke-width="0.5"/>
<circle cx="133.50" cy="198.84" r="1.75" fill="#d01e0a" stroke="#111" stroke-width="0.5"/>
<circle cx="93.30" cy="205.96" r="1.75" fill="#4d4d4d" stroke="#111" stroke-width="0.5"/>
<line x1="119.60" y1="210.36" x2="167.80" y2="210.36" stroke="#444" stroke-width="0.7" />
<rect x="125.10" y="209.11" width="38.70" height="2.50" fill="#eba79d" stroke="#333" stroke-width="0.5" />
<line x1="147.00" y1="209.11" x2="147.00" y2="211.61" stroke="#444" stroke-width="0.5" />
<circle cx="119.60" cy="210.36" r="1.75" fill="#d01e0a" stroke="#111" stroke-width="0.5"/>
<circle cx="141.20" cy="210.36" r="1.75" fill="#d01e0a" stroke="#111" stroke-width="0.5"/>
<circle cx="153.30" cy="210.36" r="1.75" fill="#d01e0a" stroke="#111" stroke-width="0.5"/>
<circle cx="167.80" cy="210.36" r="1.75" fill="#d01e0a" stroke="#111" stroke-width="0.5"/>
<circle cx="93.30" cy="217.48" r="1.75" fill="#4d4d4d" stroke="#111" stroke-width="0.5"/>
<line x1="122.20" y1="221.88" x2="160.60" y2="221.88" stroke="#444" stroke-width="0.7" />
<rect x="125.00" y="220.63" width="28.60" height="2.50" fill="#eba79d" stroke="#333" stroke-width="0.5" />
<line x1="131.00" y1="220.63" x2="131.00" y2="223.13" stroke="#444" stroke-width="0.5" />
<circle cx="122.20" cy="221.88" r="1.75" fill="#d01e0a" stroke="#111" stroke-width="0.5"/>
<circle cx="128.80" cy="221.88" r="1.75" fill="#d01e0a" stroke="#111" stroke-width="0.5"/>
<circle cx="132.40" cy="221.88" r="1.75" fill="#d01e0a" stroke="#111" stroke-width="0.5"/>
<circle cx="160.60" cy="221.88" r="1.75" fill="#d01e0a" stroke="#111" stroke-width="0.5"/>
<circle cx="93.30" cy="229.00" r="1.75" fill="#4d4d4d" stroke="#111" stroke-width="0.5"/>
<line x1="101.80" y1="233.40" x2="146.00" y2="233.40" stroke="#444" stroke-width="0.7" />
<rect x="107.20" y="232.15" width="34.40" height="2.50" fill="#eba79d" stroke="#333" stroke-width="0.5" />
<line x1="126.00" y1="232.15" x2="126.00" y2="234.65" stroke="#444" stroke-width="0.5" />
<circle cx="101.80" cy="233.40" r="1.75" fill="#d01e0a" stroke="#111" stroke-width="0.5"/>
<circle cx="121.90" cy="233.40" r="1.75" fill="#d01e0a" stroke="#111" stroke-width="0.5"/>
<circle cx="128.80" cy="233.40" r="1.75" fill="#d01e0a" stroke="#111" stroke-width="0.5"/>
<circle cx="146.00" cy="233.40" r="1.75" fill="#d01e0a" stroke="#111" stroke-width="0.5"/>
<circle cx="93.30" cy="240.52" r="1.75" fill="#4d4d4d" stroke="#111" stroke-width="0.5"/>
<line x1="114.50" y1="244.92" x2="154.50" y2="244.92" stroke="#444" stroke-width="0.7" />
<rect x="118.90" y="243.67" width="34.70" height="2.50" fill="#eba79d" stroke="#333" stroke-width="0.5" />
<line x1="142.70" y1="243.67" x2="142.70" y2="246.17" stroke="#444" stroke-width="0.5" />
<circle cx="114.50" cy="244.92" r="1.75" fill="#d01e0a" stroke="#111" stroke-width="0.5"/>
<circle cx="131.40" cy="244.92" r="1.75" fill="#d01e0a" stroke="#111" stroke-width="0.5"/>
<circle cx="153.50" cy="244.92" r="1.75" fill="#d01e0a" stroke="#111" stroke-width="0.5"/>
<circle cx="154.50" cy="244.92" r="1.75" fill="#d01e0a" stroke="#111" stroke-width="0.5"/>
<circle cx="93.30" cy="252.04" r="1.75" fill="#4d4d4d" stroke="#111" stroke-width="0.5"/>
<line x1="111.30" y1="256.44" x2="163.40" y2="256.44" stroke="#444" stroke-width="0.7" />
<rect x="114.50" y="255.19" width="41.70" height="2.50" fill="#eba79d" stroke="#333" stroke-width="0.5" />
<line x1="128.50" y1="255.19" x2="128.50" y2="257.69" stroke="#444" stroke-width="0.5" />
<circle cx="111.30" cy="256.44" r="1.75" fill="#d01e0a" stroke="#111" stroke-width="0.5"/>
<circle cx="122.00" cy="256.44" r="1.75" fill="#d01e0a" stroke="#111" stroke-width="0.5"/>
<circle cx="135.40" cy="256.44" r="1.75" fill="#d01e0a" stroke="#111" stroke-width="0.5"/>
<circle cx="163.40" cy="256.44" r="1.75" fill="#d01e0a" stroke="#111" stroke-width="0.5"/>
<circle cx="93.30" cy="263.56" r="1.75" fill="#4d4d4d" stroke="#111" stroke-width="0.5"/>
<line x1="130.30" y1="267.96" x2="164.30" y2="267.96" stroke="#444" stroke-width="0.7" />
<rect x="130.30" y="266.71" width="27.20" height="2.50" fill="#eba79d" stroke="#333" stroke-width="0.5" />
<line x1="138.00" y1="266.71" x2="138.00" y2="269.21" stroke="#444" stroke-width="0.5" />
<circle cx="130.30" cy="267.96" r="1.75" fill="#d01e0a" stroke="#111" stroke-width="0.5"/>
<circle cx="135.10" cy="267.96" r="1.75" fill="#d01e0a" stroke="#111" stroke-width="0.5"/>
<circle cx="137.80" cy="267.96" r="1.75" fill="#d01e0a" stroke="#111" stroke-width="0.5"/>
<circle cx="164.30" cy="267.96" r="1.75" fill="#d01e0a" stroke="#111" stroke-width="0.5"/>
<text x="296.20" y="166.50" font-size="14.7" text-anchor="start" font-weight="normal" font-style="italic" fill="#111" stroke="#111" stroke-width="0.22" >Adpgk</text>
<line x1="253.90" y1="168.20" x2="253.90" y2="270.60" stroke="#8a8a8a" stroke-width="0.8" />
<line x1="250.60" y1="173.70" x2="253.90" y2="173.70" stroke="#666" stroke-width="0.7" />
<text x="249.60" y="176.70" font-size="8.6" text-anchor="end" font-weight="normal" font-style="normal" fill="#111" stroke="#111" stroke-width="0.22" >Ctrl LV</text>
<line x1="250.60" y1="185.22" x2="253.90" y2="185.22" stroke="#666" stroke-width="0.7" />
<text x="249.60" y="188.22" font-size="8.6" text-anchor="end" font-weight="normal" font-style="normal" fill="#111" stroke="#111" stroke-width="0.22" >LV::Conca</text>
<line x1="250.60" y1="196.74" x2="253.90" y2="196.74" stroke="#666" stroke-width="0.7" />
<text x="249.60" y="199.74" font-size="8.6" text-anchor="end" font-weight="normal" font-style="normal" fill="#111" stroke="#111" stroke-width="0.22" >LV::G7</text>
<line x1="250.60" y1="208.26" x2="253.90" y2="208.26" stroke="#666" stroke-width="0.7" />
<text x="249.60" y="211.26" font-size="8.6" text-anchor="end" font-weight="normal" font-style="normal" fill="#111" stroke="#111" stroke-width="0.22" >LV::A7</text>
<line x1="250.60" y1="219.78" x2="253.90" y2="219.78" stroke="#666" stroke-width="0.7" />
<text x="249.60" y="222.78" font-size="8.6" text-anchor="end" font-weight="normal" font-style="normal" fill="#111" stroke="#111" stroke-width="0.22" >LV::S7</text>
<line x1="250.60" y1="231.30" x2="253.90" y2="231.30" stroke="#666" stroke-width="0.7" />
<text x="249.60" y="234.30" font-size="8.6" text-anchor="end" font-weight="normal" font-style="normal" fill="#111" stroke="#111" stroke-width="0.22" >LV::A7-PEST</text>
<line x1="250.60" y1="242.82" x2="253.90" y2="242.82" stroke="#666" stroke-width="0.7" />
<text x="249.60" y="245.82" font-size="8.6" text-anchor="end" font-weight="normal" font-style="normal" fill="#111" stroke="#111" stroke-width="0.22" >LV::S7-PEST</text>
<line x1="250.60" y1="254.34" x2="253.90" y2="254.34" stroke="#666" stroke-width="0.7" />
<text x="249.60" y="257.34" font-size="8.6" text-anchor="end" font-weight="normal" font-style="normal" fill="#111" stroke="#111" stroke-width="0.22" >LV::UBA7</text>
<line x1="250.60" y1="265.86" x2="253.90" y2="265.86" stroke="#666" stroke-width="0.7" />
<text x="249.60" y="268.86" font-size="8.6" text-anchor="end" font-weight="normal" font-style="normal" fill="#111" stroke="#111" stroke-width="0.22" >LV::UBS7</text>
<line x1="253.90" y1="270.60" x2="355.22" y2="270.60" stroke="#222" stroke-width="0.9" />
<line x1="253.90" y1="270.60" x2="253.90" y2="273.60" stroke="#222" stroke-width="0.8" />
<text x="253.90" y="282.60" font-size="8.6" text-anchor="middle" font-weight="normal" font-style="normal" fill="#111" stroke="#111" stroke-width="0.22" >0</text>
<line x1="279.23" y1="270.60" x2="279.23" y2="273.60" stroke="#222" stroke-width="0.8" />
<text x="279.23" y="282.60" font-size="8.6" text-anchor="middle" font-weight="normal" font-style="normal" fill="#111" stroke="#111" stroke-width="0.22" >500</text>
<line x1="304.56" y1="270.60" x2="304.56" y2="273.60" stroke="#222" stroke-width="0.8" />
<text x="304.56" y="282.60" font-size="8.6" text-anchor="middle" font-weight="normal" font-style="normal" fill="#111" stroke="#111" stroke-width="0.22" >1000</text>
<line x1="329.89" y1="270.60" x2="329.89" y2="273.60" stroke="#222" stroke-width="0.8" />
<text x="329.89" y="282.60" font-size="8.6" text-anchor="middle" font-weight="normal" font-style="normal" fill="#111" stroke="#111" stroke-width="0.22" >1500</text>
<line x1="355.22" y1="270.60" x2="355.22" y2="273.60" stroke="#222" stroke-width="0.8" />
<text x="355.22" y="282.60" font-size="8.6" text-anchor="middle" font-weight="normal" font-style="normal" fill="#111" stroke="#111" stroke-width="0.22" >2000</text>
<circle cx="253.90" cy="171.50" r="1.75" fill="#4d4d4d" stroke="#111" stroke-width="0.5"/>
<circle cx="253.90" cy="175.90" r="1.75" fill="#d01e0a" stroke="#111" stroke-width="0.5"/>
<circle cx="253.90" cy="183.02" r="1.75" fill="#4d4d4d" stroke="#111" stroke-width="0.5"/>
<line x1="263.20" y1="187.42" x2="314.60" y2="187.42" stroke="#444" stroke-width="0.7" />
<rect x="263.20" y="186.17" width="43.80" height="2.50" fill="#eba79d" stroke="#333" stroke-width="0.5" />
<line x1="276.50" y1="186.17" x2="276.50" y2="188.67" stroke="#444" stroke-width="0.5" />
<circle cx="263.20" cy="187.42" r="1.75" fill="#d01e0a" stroke="#111" stroke-width="0.5"/>
<circle cx="269.00" cy="187.42" r="1.75" fill="#d01e0a" stroke="#111" stroke-width="0.5"/>
<circle cx="284.50" cy="187.42" r="1.75" fill="#d01e0a" stroke="#111" stroke-width="0.5"/>
<circle cx="314.60" cy="187.42" r="1.75" fill="#d01e0a" stroke="#111" stroke-width="0.5"/>
<circle cx="253.90" cy="194.54" r="1.75" fill="#4d4d4d" stroke="#111" stroke-width="0.5"/>
<line x1="253.90" y1="198.94" x2="301.40" y2="198.94" stroke="#444" stroke-width="0.7" />
<rect x="258.40" y="197.69" width="38.60" height="2.50" fill="#eba79d" stroke="#333" stroke-width="0.5" />
<line x1="277.00" y1="197.69" x2="277.00" y2="200.19" stroke="#444" stroke-width="0.5" />
<circle cx="253.90" cy="198.94" r="1.75" fill="#d01e0a" stroke="#111" stroke-width="0.5"/>
<circle cx="270.00" cy="198.94" r="1.75" fill="#d01e0a" stroke="#111" stroke-width="0.5"/>
<circle cx="285.00" cy="198.94" r="1.75" fill="#d01e0a" stroke="#111" stroke-width="0.5"/>
<circle cx="301.40" cy="198.94" r="1.75" fill="#d01e0a" stroke="#111" stroke-width="0.5"/>
<circle cx="253.90" cy="206.06" r="1.75" fill="#4d4d4d" stroke="#111" stroke-width="0.5"/>
<line x1="275.70" y1="210.46" x2="331.90" y2="210.46" stroke="#444" stroke-width="0.7" />
<rect x="289.30" y="209.21" width="37.50" height="2.50" fill="#eba79d" stroke="#333" stroke-width="0.5" />
<circle cx="275.70" cy="210.46" r="1.75" fill="#d01e0a" stroke="#111" stroke-width="0.5"/>
<circle cx="328.30" cy="210.46" r="1.75" fill="#d01e0a" stroke="#111" stroke-width="0.5"/>
<circle cx="331.90" cy="210.46" r="1.75" fill="#d01e0a" stroke="#111" stroke-width="0.5"/>
<circle cx="253.90" cy="217.58" r="1.75" fill="#4d4d4d" stroke="#111" stroke-width="0.5"/>
<line x1="257.70" y1="221.98" x2="338.30" y2="221.98" stroke="#444" stroke-width="0.7" />
<rect x="260.00" y="220.73" width="60.30" height="2.50" fill="#eba79d" stroke="#333" stroke-width="0.5" />
<circle cx="257.70" cy="221.98" r="1.75" fill="#d01e0a" stroke="#111" stroke-width="0.5"/>
<circle cx="265.00" cy="221.98" r="1.75" fill="#d01e0a" stroke="#111" stroke-width="0.5"/>
<circle cx="265.70" cy="221.98" r="1.75" fill="#d01e0a" stroke="#111" stroke-width="0.5"/>
<circle cx="338.30" cy="221.98" r="1.75" fill="#d01e0a" stroke="#111" stroke-width="0.5"/>
<rect x="253.90" y="227.85" width="4.90" height="2.50" fill="#c9c9c9" stroke="#333" stroke-width="0.5" />
<circle cx="253.90" cy="229.10" r="1.75" fill="#4d4d4d" stroke="#111" stroke-width="0.5"/>
<circle cx="256.50" cy="229.10" r="1.75" fill="#4d4d4d" stroke="#111" stroke-width="0.5"/>
<circle cx="258.80" cy="229.10" r="1.75" fill="#4d4d4d" stroke="#111" stroke-width="0.5"/>
<line x1="260.00" y1="233.50" x2="323.50" y2="233.50" stroke="#444" stroke-width="0.7" />
<rect x="262.50" y="232.25" width="56.50" height="2.50" fill="#eba79d" stroke="#333" stroke-width="0.5" />
<line x1="287.70" y1="232.25" x2="287.70" y2="234.75" stroke="#444" stroke-width="0.5" />
<circle cx="260.00" cy="233.50" r="1.75" fill="#d01e0a" stroke="#111" stroke-width="0.5"/>
<circle cx="269.30" cy="233.50" r="1.75" fill="#d01e0a" stroke="#111" stroke-width="0.5"/>
<circle cx="306.20" cy="233.50" r="1.75" fill="#d01e0a" stroke="#111" stroke-width="0.5"/>
<circle cx="323.50" cy="233.50" r="1.75" fill="#d01e0a" stroke="#111" stroke-width="0.5"/>
<circle cx="253.90" cy="240.62" r="1.75" fill="#4d4d4d" stroke="#111" stroke-width="0.5"/>
<line x1="278.60" y1="245.02" x2="348.40" y2="245.02" stroke="#444" stroke-width="0.7" />
<rect x="290.50" y="243.77" width="56.50" height="2.50" fill="#eba79d" stroke="#333" stroke-width="0.5" />
<line x1="333.50" y1="243.77" x2="333.50" y2="246.27" stroke="#444" stroke-width="0.5" />
<circle cx="278.60" cy="245.02" r="1.75" fill="#d01e0a" stroke="#111" stroke-width="0.5"/>
<circle cx="325.20" cy="245.02" r="1.75" fill="#d01e0a" stroke="#111" stroke-width="0.5"/>
<circle cx="342.30" cy="245.02" r="1.75" fill="#d01e0a" stroke="#111" stroke-width="0.5"/>
<circle cx="348.40" cy="245.02" r="1.75" fill="#d01e0a" stroke="#111" stroke-width="0.5"/>
<rect x="253.90" y="250.89" width="6.10" height="2.50" fill="#c9c9c9" stroke="#333" stroke-width="0.5" />
<circle cx="253.90" cy="252.14" r="1.75" fill="#4d4d4d" stroke="#111" stroke-width="0.5"/>
<circle cx="257.00" cy="252.14" r="1.75" fill="#4d4d4d" stroke="#111" stroke-width="0.5"/>
<circle cx="260.00" cy="252.14" r="1.75" fill="#4d4d4d" stroke="#111" stroke-width="0.5"/>
<line x1="271.40" y1="256.54" x2="330.80" y2="256.54" stroke="#444" stroke-width="0.7" />
<rect x="271.40" y="255.29" width="47.30" height="2.50" fill="#eba79d" stroke="#333" stroke-width="0.5" />
<circle cx="271.40" cy="256.54" r="1.75" fill="#d01e0a" stroke="#111" stroke-width="0.5"/>
<circle cx="276.50" cy="256.54" r="1.75" fill="#d01e0a" stroke="#111" stroke-width="0.5"/>
<circle cx="281.30" cy="256.54" r="1.75" fill="#d01e0a" stroke="#111" stroke-width="0.5"/>
<circle cx="330.80" cy="256.54" r="1.75" fill="#d01e0a" stroke="#111" stroke-width="0.5"/>
<circle cx="253.90" cy="263.66" r="1.75" fill="#4d4d4d" stroke="#111" stroke-width="0.5"/>
<line x1="266.00" y1="268.06" x2="289.30" y2="268.06" stroke="#444" stroke-width="0.7" />
<rect x="270.60" y="266.81" width="11.50" height="2.50" fill="#eba79d" stroke="#333" stroke-width="0.5" />
<circle cx="266.00" cy="268.06" r="1.75" fill="#d01e0a" stroke="#111" stroke-width="0.5"/>
<circle cx="283.40" cy="268.06" r="1.75" fill="#d01e0a" stroke="#111" stroke-width="0.5"/>
<circle cx="286.60" cy="268.06" r="1.75" fill="#d01e0a" stroke="#111" stroke-width="0.5"/>
<circle cx="289.30" cy="268.06" r="1.75" fill="#d01e0a" stroke="#111" stroke-width="0.5"/>
<text x="450.10" y="161.50" font-size="14.7" text-anchor="start" font-weight="normal" font-style="italic" fill="#111" stroke="#111" stroke-width="0.22" >Reps1</text>
<line x1="412.20" y1="163.00" x2="412.20" y2="265.30" stroke="#8a8a8a" stroke-width="0.8" />
<line x1="408.90" y1="168.50" x2="412.20" y2="168.50" stroke="#666" stroke-width="0.7" />
<text x="407.90" y="171.50" font-size="8.6" text-anchor="end" font-weight="normal" font-style="normal" fill="#111" stroke="#111" stroke-width="0.22" >Ctrl LV</text>
<line x1="408.90" y1="179.98" x2="412.20" y2="179.98" stroke="#666" stroke-width="0.7" />
<text x="407.90" y="182.98" font-size="8.6" text-anchor="end" font-weight="normal" font-style="normal" fill="#111" stroke="#111" stroke-width="0.22" >LV::Conca</text>
<line x1="408.90" y1="191.46" x2="412.20" y2="191.46" stroke="#666" stroke-width="0.7" />
<text x="407.90" y="194.46" font-size="8.6" text-anchor="end" font-weight="normal" font-style="normal" fill="#111" stroke="#111" stroke-width="0.22" >LV::G7</text>
<line x1="408.90" y1="202.94" x2="412.20" y2="202.94" stroke="#666" stroke-width="0.7" />
<text x="407.90" y="205.94" font-size="8.6" text-anchor="end" font-weight="normal" font-style="normal" fill="#111" stroke="#111" stroke-width="0.22" >LV::A7</text>
<line x1="408.90" y1="214.42" x2="412.20" y2="214.42" stroke="#666" stroke-width="0.7" />
<text x="407.90" y="217.42" font-size="8.6" text-anchor="end" font-weight="normal" font-style="normal" fill="#111" stroke="#111" stroke-width="0.22" >LV::S7</text>
<line x1="408.90" y1="225.90" x2="412.20" y2="225.90" stroke="#666" stroke-width="0.7" />
<text x="407.90" y="228.90" font-size="8.6" text-anchor="end" font-weight="normal" font-style="normal" fill="#111" stroke="#111" stroke-width="0.22" >LV::A7-PEST</text>
<line x1="408.90" y1="237.38" x2="412.20" y2="237.38" stroke="#666" stroke-width="0.7" />
<text x="407.90" y="240.38" font-size="8.6" text-anchor="end" font-weight="normal" font-style="normal" fill="#111" stroke="#111" stroke-width="0.22" >LV::S7-PEST</text>
<line x1="408.90" y1="248.86" x2="412.20" y2="248.86" stroke="#666" stroke-width="0.7" />
<text x="407.90" y="251.86" font-size="8.6" text-anchor="end" font-weight="normal" font-style="normal" fill="#111" stroke="#111" stroke-width="0.22" >LV::UBA7</text>
<line x1="408.90" y1="260.34" x2="412.20" y2="260.34" stroke="#666" stroke-width="0.7" />
<text x="407.90" y="263.34" font-size="8.6" text-anchor="end" font-weight="normal" font-style="normal" fill="#111" stroke="#111" stroke-width="0.22" >LV::UBS7</text>
<line x1="412.20" y1="265.30" x2="513.80" y2="265.30" stroke="#222" stroke-width="0.9" />
<line x1="412.20" y1="265.30" x2="412.20" y2="268.30" stroke="#222" stroke-width="0.8" />
<text x="412.20" y="277.30" font-size="8.6" text-anchor="middle" font-weight="normal" font-style="normal" fill="#111" stroke="#111" stroke-width="0.22" >0</text>
<line x1="437.60" y1="265.30" x2="437.60" y2="268.30" stroke="#222" stroke-width="0.8" />
<text x="437.60" y="277.30" font-size="8.6" text-anchor="middle" font-weight="normal" font-style="normal" fill="#111" stroke="#111" stroke-width="0.22" >1000</text>
<line x1="463.00" y1="265.30" x2="463.00" y2="268.30" stroke="#222" stroke-width="0.8" />
<text x="463.00" y="277.30" font-size="8.6" text-anchor="middle" font-weight="normal" font-style="normal" fill="#111" stroke="#111" stroke-width="0.22" >2000</text>
<line x1="488.40" y1="265.30" x2="488.40" y2="268.30" stroke="#222" stroke-width="0.8" />
<text x="488.40" y="277.30" font-size="8.6" text-anchor="middle" font-weight="normal" font-style="normal" fill="#111" stroke="#111" stroke-width="0.22" >3000</text>
<line x1="513.80" y1="265.30" x2="513.80" y2="268.30" stroke="#222" stroke-width="0.8" />
<text x="513.80" y="277.30" font-size="8.6" text-anchor="middle" font-weight="normal" font-style="normal" fill="#111" stroke="#111" stroke-width="0.22" >4000</text>
<circle cx="412.20" cy="166.30" r="1.75" fill="#4d4d4d" stroke="#111" stroke-width="0.5"/>
<circle cx="412.20" cy="170.70" r="1.75" fill="#d01e0a" stroke="#111" stroke-width="0.5"/>
<rect x="412.20" y="176.53" width="9.70" height="2.50" fill="#c9c9c9" stroke="#333" stroke-width="0.5" />
<circle cx="412.20" cy="177.78" r="1.75" fill="#4d4d4d" stroke="#111" stroke-width="0.5"/>
<circle cx="415.40" cy="177.78" r="1.75" fill="#4d4d4d" stroke="#111" stroke-width="0.5"/>
<circle cx="421.90" cy="177.78" r="1.75" fill="#4d4d4d" stroke="#111" stroke-width="0.5"/>
<line x1="417.20" y1="182.18" x2="440.80" y2="182.18" stroke="#444" stroke-width="0.7" />
<rect x="417.20" y="180.93" width="19.40" height="2.50" fill="#eba79d" stroke="#333" stroke-width="0.5" />
<circle cx="417.20" cy="182.18" r="1.75" fill="#d01e0a" stroke="#111" stroke-width="0.5"/>
<circle cx="425.80" cy="182.18" r="1.75" fill="#d01e0a" stroke="#111" stroke-width="0.5"/>
<circle cx="440.80" cy="182.18" r="1.75" fill="#d01e0a" stroke="#111" stroke-width="0.5"/>
<line x1="426.90" y1="189.26" x2="451.50" y2="189.26" stroke="#444" stroke-width="0.7" />
<rect x="430.70" y="188.01" width="20.80" height="2.50" fill="#c9c9c9" stroke="#333" stroke-width="0.5" />
<circle cx="426.90" cy="189.26" r="1.75" fill="#4d4d4d" stroke="#111" stroke-width="0.5"/>
<circle cx="440.50" cy="189.26" r="1.75" fill="#4d4d4d" stroke="#111" stroke-width="0.5"/>
<circle cx="444.00" cy="189.26" r="1.75" fill="#4d4d4d" stroke="#111" stroke-width="0.5"/>
<circle cx="447.00" cy="189.26" r="1.75" fill="#4d4d4d" stroke="#111" stroke-width="0.5"/>
<circle cx="451.00" cy="189.26" r="1.75" fill="#4d4d4d" stroke="#111" stroke-width="0.5"/>
<line x1="444.10" y1="193.66" x2="479.90" y2="193.66" stroke="#444" stroke-width="0.7" />
<rect x="451.60" y="192.41" width="21.40" height="2.50" fill="#eba79d" stroke="#333" stroke-width="0.5" />
<circle cx="444.10" cy="193.66" r="1.75" fill="#d01e0a" stroke="#111" stroke-width="0.5"/>
<circle cx="473.00" cy="193.66" r="1.75" fill="#d01e0a" stroke="#111" stroke-width="0.5"/>
<circle cx="479.90" cy="193.66" r="1.75" fill="#d01e0a" stroke="#111" stroke-width="0.5"/>
<line x1="412.20" y1="200.74" x2="451.90" y2="200.74" stroke="#444" stroke-width="0.7" />
<rect x="412.20" y="199.49" width="33.70" height="2.50" fill="#c9c9c9" stroke="#333" stroke-width="0.5" />
<circle cx="412.20" cy="200.74" r="1.75" fill="#4d4d4d" stroke="#111" stroke-width="0.5"/>
<circle cx="422.00" cy="200.74" r="1.75" fill="#4d4d4d" stroke="#111" stroke-width="0.5"/>
<circle cx="427.50" cy="200.74" r="1.75" fill="#4d4d4d" stroke="#111" stroke-width="0.5"/>
<circle cx="451.90" cy="200.74" r="1.75" fill="#4d4d4d" stroke="#111" stroke-width="0.5"/>
<line x1="430.60" y1="205.14" x2="467.00" y2="205.14" stroke="#444" stroke-width="0.7" />
<rect x="430.60" y="203.89" width="33.30" height="2.50" fill="#eba79d" stroke="#333" stroke-width="0.5" />
<circle cx="430.60" cy="205.14" r="1.75" fill="#d01e0a" stroke="#111" stroke-width="0.5"/>
<circle cx="437.90" cy="205.14" r="1.75" fill="#d01e0a" stroke="#111" stroke-width="0.5"/>
<circle cx="454.90" cy="205.14" r="1.75" fill="#d01e0a" stroke="#111" stroke-width="0.5"/>
<circle cx="467.00" cy="205.14" r="1.75" fill="#d01e0a" stroke="#111" stroke-width="0.5"/>
<line x1="412.20" y1="212.22" x2="426.50" y2="212.22" stroke="#444" stroke-width="0.7" />
<rect x="412.20" y="210.97" width="11.50" height="2.50" fill="#c9c9c9" stroke="#333" stroke-width="0.5" />
<circle cx="412.50" cy="212.22" r="1.75" fill="#4d4d4d" stroke="#111" stroke-width="0.5"/>
<circle cx="413.50" cy="212.22" r="1.75" fill="#4d4d4d" stroke="#111" stroke-width="0.5"/>
<circle cx="426.50" cy="212.22" r="1.75" fill="#4d4d4d" stroke="#111" stroke-width="0.5"/>
<line x1="415.00" y1="216.62" x2="452.40" y2="216.62" stroke="#444" stroke-width="0.7" />
<rect x="415.00" y="215.37" width="28.60" height="2.50" fill="#eba79d" stroke="#333" stroke-width="0.5" />
<circle cx="415.00" cy="216.62" r="1.75" fill="#d01e0a" stroke="#111" stroke-width="0.5"/>
<circle cx="418.20" cy="216.62" r="1.75" fill="#d01e0a" stroke="#111" stroke-width="0.5"/>
<circle cx="452.40" cy="216.62" r="1.75" fill="#d01e0a" stroke="#111" stroke-width="0.5"/>
<rect x="417.50" y="222.45" width="6.90" height="2.50" fill="#c9c9c9" stroke="#333" stroke-width="0.5" />
<circle cx="417.50" cy="223.70" r="1.75" fill="#4d4d4d" stroke="#111" stroke-width="0.5"/>
<circle cx="419.50" cy="223.70" r="1.75" fill="#4d4d4d" stroke="#111" stroke-width="0.5"/>
<circle cx="421.70" cy="223.70" r="1.75" fill="#4d4d4d" stroke="#111" stroke-width="0.5"/>
<circle cx="424.40" cy="223.70" r="1.75" fill="#4d4d4d" stroke="#111" stroke-width="0.5"/>
<line x1="425.50" y1="228.10" x2="445.20" y2="228.10" stroke="#444" stroke-width="0.7" />
<rect x="425.50" y="226.85" width="17.20" height="2.50" fill="#eba79d" stroke="#333" stroke-width="0.5" />
<circle cx="425.50" cy="228.10" r="1.75" fill="#d01e0a" stroke="#111" stroke-width="0.5"/>
<circle cx="427.90" cy="228.10" r="1.75" fill="#d01e0a" stroke="#111" stroke-width="0.5"/>
<circle cx="437.20" cy="228.10" r="1.75" fill="#d01e0a" stroke="#111" stroke-width="0.5"/>
<circle cx="445.20" cy="228.10" r="1.75" fill="#d01e0a" stroke="#111" stroke-width="0.5"/>
<rect x="422.80" y="233.93" width="28.00" height="2.50" fill="#c9c9c9" stroke="#333" stroke-width="0.5" />
<line x1="435.00" y1="233.93" x2="435.00" y2="236.43" stroke="#444" stroke-width="0.5" />
<circle cx="422.80" cy="235.18" r="1.75" fill="#4d4d4d" stroke="#111" stroke-width="0.5"/>
<circle cx="428.00" cy="235.18" r="1.75" fill="#4d4d4d" stroke="#111" stroke-width="0.5"/>
<circle cx="440.80" cy="235.18" r="1.75" fill="#4d4d4d" stroke="#111" stroke-width="0.5"/>
<circle cx="449.70" cy="235.18" r="1.75" fill="#4d4d4d" stroke="#111" stroke-width="0.5"/>
<line x1="452.40" y1="239.58" x2="481.60" y2="239.58" stroke="#444" stroke-width="0.7" />
<rect x="452.40" y="238.33" width="23.10" height="2.50" fill="#eba79d" stroke="#333" stroke-width="0.5" />
<circle cx="452.40" cy="239.58" r="1.75" fill="#d01e0a" stroke="#111" stroke-width="0.5"/>
<circle cx="457.00" cy="239.58" r="1.75" fill="#d01e0a" stroke="#111" stroke-width="0.5"/>
<circle cx="458.10" cy="239.58" r="1.75" fill="#d01e0a" stroke="#111" stroke-width="0.5"/>
<circle cx="481.60" cy="239.58" r="1.75" fill="#d01e0a" stroke="#111" stroke-width="0.5"/>
<rect x="437.60" y="245.41" width="15.90" height="2.50" fill="#c9c9c9" stroke="#333" stroke-width="0.5" />
<circle cx="436.60" cy="246.66" r="1.75" fill="#4d4d4d" stroke="#111" stroke-width="0.5"/>
<circle cx="437.60" cy="246.66" r="1.75" fill="#4d4d4d" stroke="#111" stroke-width="0.5"/>
<circle cx="452.50" cy="246.66" r="1.75" fill="#4d4d4d" stroke="#111" stroke-width="0.5"/>
<circle cx="454.50" cy="246.66" r="1.75" fill="#4d4d4d" stroke="#111" stroke-width="0.5"/>
<rect x="460.50" y="249.81" width="15.50" height="2.50" fill="#eba79d" stroke="#333" stroke-width="0.5" />
<circle cx="460.50" cy="251.06" r="1.75" fill="#d01e0a" stroke="#111" stroke-width="0.5"/>
<circle cx="463.30" cy="251.06" r="1.75" fill="#d01e0a" stroke="#111" stroke-width="0.5"/>
<circle cx="468.50" cy="251.06" r="1.75" fill="#d01e0a" stroke="#111" stroke-width="0.5"/>
<circle cx="476.40" cy="251.06" r="1.75" fill="#d01e0a" stroke="#111" stroke-width="0.5"/>
<line x1="427.20" y1="258.14" x2="464.60" y2="258.14" stroke="#444" stroke-width="0.7" />
<rect x="430.40" y="256.89" width="30.80" height="2.50" fill="#c9c9c9" stroke="#333" stroke-width="0.5" />
<line x1="445.00" y1="256.89" x2="445.00" y2="259.39" stroke="#444" stroke-width="0.5" />
<circle cx="427.20" cy="258.14" r="1.75" fill="#4d4d4d" stroke="#111" stroke-width="0.5"/>
<circle cx="439.00" cy="258.14" r="1.75" fill="#4d4d4d" stroke="#111" stroke-width="0.5"/>
<circle cx="451.90" cy="258.14" r="1.75" fill="#4d4d4d" stroke="#111" stroke-width="0.5"/>
<circle cx="464.60" cy="258.14" r="1.75" fill="#4d4d4d" stroke="#111" stroke-width="0.5"/>
<line x1="451.90" y1="262.54" x2="492.10" y2="262.54" stroke="#444" stroke-width="0.7" />
<rect x="458.00" y="261.29" width="34.10" height="2.50" fill="#eba79d" stroke="#333" stroke-width="0.5" />
<line x1="475.00" y1="261.29" x2="475.00" y2="263.79" stroke="#444" stroke-width="0.5" />
<circle cx="451.90" cy="262.54" r="1.75" fill="#d01e0a" stroke="#111" stroke-width="0.5"/>
<circle cx="476.40" cy="262.54" r="1.75" fill="#d01e0a" stroke="#111" stroke-width="0.5"/>
<circle cx="491.70" cy="262.54" r="1.75" fill="#d01e0a" stroke="#111" stroke-width="0.5"/>
<text x="607.70" y="161.50" font-size="14.7" text-anchor="start" font-weight="normal" font-style="italic" fill="#111" stroke="#111" stroke-width="0.22" >Med12</text>
<line x1="571.40" y1="163.00" x2="571.40" y2="265.30" stroke="#8a8a8a" stroke-width="0.8" />
<line x1="568.10" y1="168.50" x2="571.40" y2="168.50" stroke="#666" stroke-width="0.7" />
<text x="567.10" y="171.50" font-size="8.6" text-anchor="end" font-weight="normal" font-style="normal" fill="#111" stroke="#111" stroke-width="0.22" >Ctrl LV</text>
<line x1="568.10" y1="179.98" x2="571.40" y2="179.98" stroke="#666" stroke-width="0.7" />
<text x="567.10" y="182.98" font-size="8.6" text-anchor="end" font-weight="normal" font-style="normal" fill="#111" stroke="#111" stroke-width="0.22" >LV::Conca</text>
<line x1="568.10" y1="191.46" x2="571.40" y2="191.46" stroke="#666" stroke-width="0.7" />
<text x="567.10" y="194.46" font-size="8.6" text-anchor="end" font-weight="normal" font-style="normal" fill="#111" stroke="#111" stroke-width="0.22" >LV::G7</text>
<line x1="568.10" y1="202.94" x2="571.40" y2="202.94" stroke="#666" stroke-width="0.7" />
<text x="567.10" y="205.94" font-size="8.6" text-anchor="end" font-weight="normal" font-style="normal" fill="#111" stroke="#111" stroke-width="0.22" >LV::A7</text>
<line x1="568.10" y1="214.42" x2="571.40" y2="214.42" stroke="#666" stroke-width="0.7" />
<text x="567.10" y="217.42" font-size="8.6" text-anchor="end" font-weight="normal" font-style="normal" fill="#111" stroke="#111" stroke-width="0.22" >LV::S7</text>
<line x1="568.10" y1="225.90" x2="571.40" y2="225.90" stroke="#666" stroke-width="0.7" />
<text x="567.10" y="228.90" font-size="8.6" text-anchor="end" font-weight="normal" font-style="normal" fill="#111" stroke="#111" stroke-width="0.22" >LV::A7-PEST</text>
<line x1="568.10" y1="237.38" x2="571.40" y2="237.38" stroke="#666" stroke-width="0.7" />
<text x="567.10" y="240.38" font-size="8.6" text-anchor="end" font-weight="normal" font-style="normal" fill="#111" stroke="#111" stroke-width="0.22" >LV::S7-PEST</text>
<line x1="568.10" y1="248.86" x2="571.40" y2="248.86" stroke="#666" stroke-width="0.7" />
<text x="567.10" y="251.86" font-size="8.6" text-anchor="end" font-weight="normal" font-style="normal" fill="#111" stroke="#111" stroke-width="0.22" >LV::UBA7</text>
<line x1="568.10" y1="260.34" x2="571.40" y2="260.34" stroke="#666" stroke-width="0.7" />
<text x="567.10" y="263.34" font-size="8.6" text-anchor="end" font-weight="normal" font-style="normal" fill="#111" stroke="#111" stroke-width="0.22" >LV::UBS7</text>
<line x1="571.40" y1="265.30" x2="673.20" y2="265.30" stroke="#222" stroke-width="0.9" />
<line x1="571.40" y1="265.30" x2="571.40" y2="268.30" stroke="#222" stroke-width="0.8" />
<text x="571.40" y="277.30" font-size="8.6" text-anchor="middle" font-weight="normal" font-style="normal" fill="#111" stroke="#111" stroke-width="0.22" >0</text>
<line x1="596.85" y1="265.30" x2="596.85" y2="268.30" stroke="#222" stroke-width="0.8" />
<text x="596.85" y="277.30" font-size="8.6" text-anchor="middle" font-weight="normal" font-style="normal" fill="#111" stroke="#111" stroke-width="0.22" >1000</text>
<line x1="622.30" y1="265.30" x2="622.30" y2="268.30" stroke="#222" stroke-width="0.8" />
<text x="622.30" y="277.30" font-size="8.6" text-anchor="middle" font-weight="normal" font-style="normal" fill="#111" stroke="#111" stroke-width="0.22" >2000</text>
<line x1="647.75" y1="265.30" x2="647.75" y2="268.30" stroke="#222" stroke-width="0.8" />
<text x="647.75" y="277.30" font-size="8.6" text-anchor="middle" font-weight="normal" font-style="normal" fill="#111" stroke="#111" stroke-width="0.22" >3000</text>
<line x1="673.20" y1="265.30" x2="673.20" y2="268.30" stroke="#222" stroke-width="0.8" />
<text x="673.20" y="277.30" font-size="8.6" text-anchor="middle" font-weight="normal" font-style="normal" fill="#111" stroke="#111" stroke-width="0.22" >4000</text>
<circle cx="571.40" cy="166.30" r="1.75" fill="#4d4d4d" stroke="#111" stroke-width="0.5"/>
<circle cx="571.40" cy="170.70" r="1.75" fill="#d01e0a" stroke="#111" stroke-width="0.5"/>
<line x1="575.80" y1="177.78" x2="601.80" y2="177.78" stroke="#444" stroke-width="0.7" />
<rect x="575.80" y="176.53" width="22.20" height="2.50" fill="#c9c9c9" stroke="#333" stroke-width="0.5" />
<line x1="583.00" y1="176.53" x2="583.00" y2="179.03" stroke="#444" stroke-width="0.5" />
<circle cx="575.80" cy="177.78" r="1.75" fill="#4d4d4d" stroke="#111" stroke-width="0.5"/>
<circle cx="578.60" cy="177.78" r="1.75" fill="#4d4d4d" stroke="#111" stroke-width="0.5"/>
<circle cx="586.50" cy="177.78" r="1.75" fill="#4d4d4d" stroke="#111" stroke-width="0.5"/>
<circle cx="601.80" cy="177.78" r="1.75" fill="#4d4d4d" stroke="#111" stroke-width="0.5"/>
<circle cx="571.40" cy="182.18" r="1.75" fill="#d01e0a" stroke="#111" stroke-width="0.5"/>
<line x1="590.20" y1="189.26" x2="638.20" y2="189.26" stroke="#444" stroke-width="0.7" />
<rect x="599.70" y="188.01" width="35.30" height="2.50" fill="#c9c9c9" stroke="#333" stroke-width="0.5" />
<line x1="616.00" y1="188.01" x2="616.00" y2="190.51" stroke="#444" stroke-width="0.5" />
<circle cx="590.20" cy="189.26" r="1.75" fill="#4d4d4d" stroke="#111" stroke-width="0.5"/>
<circle cx="624.60" cy="189.26" r="1.75" fill="#4d4d4d" stroke="#111" stroke-width="0.5"/>
<circle cx="628.10" cy="189.26" r="1.75" fill="#4d4d4d" stroke="#111" stroke-width="0.5"/>
<circle cx="638.20" cy="189.26" r="1.75" fill="#4d4d4d" stroke="#111" stroke-width="0.5"/>
<rect x="571.40" y="192.41" width="18.60" height="2.50" fill="#eba79d" stroke="#333" stroke-width="0.5" />
<circle cx="571.40" cy="193.66" r="1.75" fill="#d01e0a" stroke="#111" stroke-width="0.5"/>
<circle cx="580.50" cy="193.66" r="1.75" fill="#d01e0a" stroke="#111" stroke-width="0.5"/>
<circle cx="585.10" cy="193.66" r="1.75" fill="#d01e0a" stroke="#111" stroke-width="0.5"/>
<circle cx="588.90" cy="193.66" r="1.75" fill="#d01e0a" stroke="#111" stroke-width="0.5"/>
<circle cx="590.00" cy="193.66" r="1.75" fill="#d01e0a" stroke="#111" stroke-width="0.5"/>
<line x1="600.40" y1="200.74" x2="637.10" y2="200.74" stroke="#444" stroke-width="0.7" />
<rect x="604.30" y="199.49" width="30.00" height="2.50" fill="#c9c9c9" stroke="#333" stroke-width="0.5" />
<line x1="616.60" y1="199.49" x2="616.60" y2="201.99" stroke="#444" stroke-width="0.5" />
<circle cx="600.40" cy="200.74" r="1.75" fill="#4d4d4d" stroke="#111" stroke-width="0.5"/>
<circle cx="604.30" cy="200.74" r="1.75" fill="#4d4d4d" stroke="#111" stroke-width="0.5"/>
<circle cx="628.50" cy="200.74" r="1.75" fill="#4d4d4d" stroke="#111" stroke-width="0.5"/>
<circle cx="637.10" cy="200.74" r="1.75" fill="#4d4d4d" stroke="#111" stroke-width="0.5"/>
<line x1="581.60" y1="205.14" x2="614.20" y2="205.14" stroke="#444" stroke-width="0.7" />
<rect x="586.90" y="203.89" width="27.30" height="2.50" fill="#eba79d" stroke="#333" stroke-width="0.5" />
<circle cx="581.60" cy="205.14" r="1.75" fill="#d01e0a" stroke="#111" stroke-width="0.5"/>
<circle cx="601.30" cy="205.14" r="1.75" fill="#d01e0a" stroke="#111" stroke-width="0.5"/>
<circle cx="609.10" cy="205.14" r="1.75" fill="#d01e0a" stroke="#111" stroke-width="0.5"/>
<circle cx="613.30" cy="205.14" r="1.75" fill="#d01e0a" stroke="#111" stroke-width="0.5"/>
<line x1="576.00" y1="212.22" x2="630.60" y2="212.22" stroke="#444" stroke-width="0.7" />
<rect x="576.00" y="210.97" width="42.40" height="2.50" fill="#c9c9c9" stroke="#333" stroke-width="0.5" />
<circle cx="576.00" cy="212.22" r="1.75" fill="#4d4d4d" stroke="#111" stroke-width="0.5"/>
<circle cx="579.00" cy="212.22" r="1.75" fill="#4d4d4d" stroke="#111" stroke-width="0.5"/>
<circle cx="581.90" cy="212.22" r="1.75" fill="#4d4d4d" stroke="#111" stroke-width="0.5"/>
<circle cx="630.60" cy="212.22" r="1.75" fill="#4d4d4d" stroke="#111" stroke-width="0.5"/>
<line x1="573.00" y1="216.62" x2="620.20" y2="216.62" stroke="#444" stroke-width="0.7" />
<rect x="573.00" y="215.37" width="36.40" height="2.50" fill="#eba79d" stroke="#333" stroke-width="0.5" />
<circle cx="573.00" cy="216.62" r="1.75" fill="#d01e0a" stroke="#111" stroke-width="0.5"/>
<circle cx="576.10" cy="216.62" r="1.75" fill="#d01e0a" stroke="#111" stroke-width="0.5"/>
<circle cx="620.20" cy="216.62" r="1.75" fill="#d01e0a" stroke="#111" stroke-width="0.5"/>
<rect x="581.90" y="222.45" width="26.10" height="2.50" fill="#c9c9c9" stroke="#333" stroke-width="0.5" />
<circle cx="581.90" cy="223.70" r="1.75" fill="#4d4d4d" stroke="#111" stroke-width="0.5"/>
<circle cx="588.60" cy="223.70" r="1.75" fill="#4d4d4d" stroke="#111" stroke-width="0.5"/>
<circle cx="599.70" cy="223.70" r="1.75" fill="#4d4d4d" stroke="#111" stroke-width="0.5"/>
<circle cx="606.30" cy="223.70" r="1.75" fill="#4d4d4d" stroke="#111" stroke-width="0.5"/>
<line x1="571.40" y1="228.10" x2="606.60" y2="228.10" stroke="#444" stroke-width="0.7" />
<rect x="574.00" y="226.85" width="32.60" height="2.50" fill="#eba79d" stroke="#333" stroke-width="0.5" />
<line x1="591.80" y1="226.85" x2="591.80" y2="229.35" stroke="#444" stroke-width="0.5" />
<circle cx="571.40" cy="228.10" r="1.75" fill="#d01e0a" stroke="#111" stroke-width="0.5"/>
<circle cx="580.30" cy="228.10" r="1.75" fill="#d01e0a" stroke="#111" stroke-width="0.5"/>
<circle cx="603.10" cy="228.10" r="1.75" fill="#d01e0a" stroke="#111" stroke-width="0.5"/>
<circle cx="605.60" cy="228.10" r="1.75" fill="#d01e0a" stroke="#111" stroke-width="0.5"/>
<line x1="611.90" y1="235.18" x2="648.20" y2="235.18" stroke="#444" stroke-width="0.7" />
<rect x="614.20" y="233.93" width="27.50" height="2.50" fill="#c9c9c9" stroke="#333" stroke-width="0.5" />
<circle cx="611.90" cy="235.18" r="1.75" fill="#4d4d4d" stroke="#111" stroke-width="0.5"/>
<circle cx="619.10" cy="235.18" r="1.75" fill="#4d4d4d" stroke="#111" stroke-width="0.5"/>
<circle cx="621.90" cy="235.18" r="1.75" fill="#4d4d4d" stroke="#111" stroke-width="0.5"/>
<circle cx="648.20" cy="235.18" r="1.75" fill="#4d4d4d" stroke="#111" stroke-width="0.5"/>
<line x1="583.30" y1="239.58" x2="617.70" y2="239.58" stroke="#444" stroke-width="0.7" />
<rect x="589.70" y="238.33" width="28.00" height="2.50" fill="#eba79d" stroke="#333" stroke-width="0.5" />
<circle cx="583.30" cy="239.58" r="1.75" fill="#d01e0a" stroke="#111" stroke-width="0.5"/>
<circle cx="606.60" cy="239.58" r="1.75" fill="#d01e0a" stroke="#111" stroke-width="0.5"/>
<circle cx="612.90" cy="239.58" r="1.75" fill="#d01e0a" stroke="#111" stroke-width="0.5"/>
<circle cx="616.60" cy="239.58" r="1.75" fill="#d01e0a" stroke="#111" stroke-width="0.5"/>
<rect x="609.40" y="245.41" width="14.50" height="2.50" fill="#c9c9c9" stroke="#333" stroke-width="0.5" />
<circle cx="609.40" cy="246.66" r="1.75" fill="#4d4d4d" stroke="#111" stroke-width="0.5"/>
<circle cx="618.10" cy="246.66" r="1.75" fill="#4d4d4d" stroke="#111" stroke-width="0.5"/>
<circle cx="621.90" cy="246.66" r="1.75" fill="#4d4d4d" stroke="#111" stroke-width="0.5"/>
<line x1="577.90" y1="251.06" x2="604.90" y2="251.06" stroke="#444" stroke-width="0.7" />
<rect x="577.90" y="249.81" width="22.00" height="2.50" fill="#eba79d" stroke="#333" stroke-width="0.5" />
<line x1="583.00" y1="249.81" x2="583.00" y2="252.31" stroke="#444" stroke-width="0.5" />
<circle cx="577.90" cy="251.06" r="1.75" fill="#d01e0a" stroke="#111" stroke-width="0.5"/>
<circle cx="586.90" cy="251.06" r="1.75" fill="#d01e0a" stroke="#111" stroke-width="0.5"/>
<circle cx="604.90" cy="251.06" r="1.75" fill="#d01e0a" stroke="#111" stroke-width="0.5"/>
<line x1="610.50" y1="258.14" x2="653.80" y2="258.14" stroke="#444" stroke-width="0.7" />
<rect x="614.20" y="256.89" width="39.60" height="2.50" fill="#c9c9c9" stroke="#333" stroke-width="0.5" />
<line x1="636.40" y1="256.89" x2="636.40" y2="259.39" stroke="#444" stroke-width="0.5" />
<circle cx="610.50" cy="258.14" r="1.75" fill="#4d4d4d" stroke="#111" stroke-width="0.5"/>
<circle cx="626.00" cy="258.14" r="1.75" fill="#4d4d4d" stroke="#111" stroke-width="0.5"/>
<circle cx="647.50" cy="258.14" r="1.75" fill="#4d4d4d" stroke="#111" stroke-width="0.5"/>
<circle cx="653.00" cy="258.14" r="1.75" fill="#4d4d4d" stroke="#111" stroke-width="0.5"/>
<rect x="577.90" y="261.29" width="10.10" height="2.50" fill="#eba79d" stroke="#333" stroke-width="0.5" />
<circle cx="577.90" cy="262.54" r="1.75" fill="#d01e0a" stroke="#111" stroke-width="0.5"/>
<circle cx="581.90" cy="262.54" r="1.75" fill="#d01e0a" stroke="#111" stroke-width="0.5"/>
<circle cx="585.50" cy="262.54" r="1.75" fill="#d01e0a" stroke="#111" stroke-width="0.5"/>
<circle cx="588.30" cy="262.54" r="1.75" fill="#d01e0a" stroke="#111" stroke-width="0.5"/>
<text x="306.8" y="146.2" font-size="8.5" text-anchor="middle" fill="#111" stroke="#111" stroke-width="0.22">SFU/10<tspan font-size="6.0" dy="-3.2">6</tspan><tspan dy="3.2"> Splenocytes</tspan></text>
<rect x="310.20" y="30.90" width="8.90" height="6.80" fill="#c9c9c9" stroke="#444" stroke-width="0.6" />
<rect x="310.20" y="39.60" width="8.90" height="6.60" fill="#eba79d" stroke="#444" stroke-width="0.6" />
<text x="323.90" y="37.40" font-size="8.6" text-anchor="start" font-weight="normal" font-style="normal" fill="#111" stroke="#111" stroke-width="0.22" >WT</text>
<text x="323.90" y="45.90" font-size="8.6" text-anchor="start" font-weight="normal" font-style="normal" fill="#111" stroke="#111" stroke-width="0.22" >NeoAg</text>
<text x="178.40" y="308.00" font-size="14" text-anchor="start" font-weight="normal" font-style="italic" fill="#111" stroke="#111" stroke-width="0.22" >Cumulative Sum</text>
<text x="521.90" y="308.20" font-size="14" text-anchor="start" font-weight="normal" font-style="italic" fill="#111" stroke="#111" stroke-width="0.22" >Diversity</text>
<text x="16.60" y="328.60" font-size="17.5" text-anchor="start" font-weight="bold" font-style="normal" fill="#000" stroke="#000" stroke-width="0" >c</text>
<line x1="70.40" y1="340.10" x2="178.10" y2="340.10" stroke="#a8a8a8" stroke-width="1.0" />
<line x1="70.40" y1="353.40" x2="178.10" y2="353.40" stroke="#a8a8a8" stroke-width="1.0" />
<line x1="70.40" y1="367.10" x2="178.10" y2="367.10" stroke="#a8a8a8" stroke-width="1.0" />
<line x1="70.40" y1="380.80" x2="178.10" y2="380.80" stroke="#a8a8a8" stroke-width="1.0" />
<line x1="70.40" y1="331.00" x2="70.40" y2="389.50" stroke="#444" stroke-width="0.9" />
<line x1="70.40" y1="389.50" x2="178.10" y2="389.50" stroke="#444" stroke-width="0.9" />
<line x1="70.40" y1="389.50" x2="70.40" y2="393.00" stroke="#444" stroke-width="0.9" />
<text x="70.40" y="405.50" font-size="11.0" text-anchor="middle" font-weight="normal" font-style="normal" fill="#111" stroke="#111" stroke-width="0.22" >0</text>
<line x1="106.30" y1="389.50" x2="106.30" y2="393.00" stroke="#444" stroke-width="0.9" />
<text x="106.30" y="405.50" font-size="11.0" text-anchor="middle" font-weight="normal" font-style="normal" fill="#111" stroke="#111" stroke-width="0.22" >5000</text>
<line x1="142.20" y1="389.50" x2="142.20" y2="393.00" stroke="#444" stroke-width="0.9" />
<text x="142.20" y="405.50" font-size="11.0" text-anchor="middle" font-weight="normal" font-style="normal" fill="#111" stroke="#111" stroke-width="0.22" >10000</text>
<line x1="178.10" y1="389.50" x2="178.10" y2="393.00" stroke="#444" stroke-width="0.9" />
<text x="178.10" y="405.50" font-size="11.0" text-anchor="middle" font-weight="normal" font-style="normal" fill="#111" stroke="#111" stroke-width="0.22" >15000</text>
<line x1="65.40" y1="340.10" x2="70.40" y2="340.10" stroke="#777" stroke-width="0.8" />
<text x="64.40" y="343.90" font-size="11.0" text-anchor="end" font-weight="normal" font-style="normal" fill="#111" stroke="#111" stroke-width="0.22" >LV::Conca</text>
<line x1="65.40" y1="353.40" x2="70.40" y2="353.40" stroke="#777" stroke-width="0.8" />
<text x="64.40" y="357.20" font-size="11.0" text-anchor="end" font-weight="normal" font-style="normal" fill="#111" stroke="#111" stroke-width="0.22" >LV::G7</text>
<line x1="65.40" y1="367.10" x2="70.40" y2="367.10" stroke="#777" stroke-width="0.8" />
<text x="64.40" y="370.90" font-size="11.0" text-anchor="end" font-weight="normal" font-style="normal" fill="#111" stroke="#111" stroke-width="0.22" >LV::A7</text>
<line x1="65.40" y1="380.80" x2="70.40" y2="380.80" stroke="#777" stroke-width="0.8" />
<text x="64.40" y="384.60" font-size="11.0" text-anchor="end" font-weight="normal" font-style="normal" fill="#111" stroke="#111" stroke-width="0.22" >LV::S7</text>
<path d="M90.00,339.07 L90.50,338.90 L91.00,338.75 L91.50,338.62 L92.00,338.52 L92.50,338.45 L93.00,338.40 L93.50,338.35 L94.00,338.31 L94.50,338.24 L95.00,338.16 L95.50,338.05 L96.00,337.93 L96.50,337.81 L97.00,337.70 L97.50,337.63 L98.00,337.60 L98.50,337.63 L99.00,337.72 L99.50,337.87 L100.00,338.07 L100.50,338.31 L101.00,338.56 L101.50,338.83 L101.50,341.37 L101.00,341.64 L100.50,341.89 L100.00,342.13 L99.50,342.33 L99.00,342.48 L98.50,342.57 L98.00,342.60 L97.50,342.57 L97.00,342.50 L96.50,342.39 L96.00,342.27 L95.50,342.15 L95.00,342.04 L94.50,341.96 L94.00,341.89 L93.50,341.85 L93.00,341.80 L92.50,341.75 L92.00,341.68 L91.50,341.58 L91.00,341.45 L90.50,341.30 L90.00,341.13 Z" fill="#c9a106" stroke="#1a1a1a" stroke-width="0.55"/>
<circle cx="91.70" cy="341.40" r="3.10" fill="#c9a106" stroke="#111" stroke-width="0.6"/>
<circle cx="97.00" cy="337.50" r="3.10" fill="#c9a106" stroke="#111" stroke-width="0.6"/>
<circle cx="100.30" cy="340.20" r="3.10" fill="#c9a106" stroke="#111" stroke-width="0.6"/>
<circle cx="97.30" cy="340.40" r="3.10" fill="#c9a106" stroke="#111" stroke-width="0.6"/>
<path d="M66.50,353.28 L67.00,353.28 L67.50,353.28 L68.00,353.28 L68.50,353.28 L69.00,353.28 L69.50,353.28 L70.00,353.28 L70.50,353.28 L71.00,353.28 L71.50,353.28 L72.00,353.28 L72.50,353.25 L73.00,353.22 L73.50,353.18 L74.00,353.13 L74.50,353.08 L75.00,353.03 L75.50,352.97 L76.00,352.90 L76.50,352.83 L77.00,352.76 L77.50,352.68 L78.00,352.61 L78.50,352.53 L79.00,352.46 L79.50,352.39 L80.00,352.32 L80.50,352.27 L81.00,352.22 L81.50,352.18 L82.00,352.16 L82.50,352.14 L83.00,352.14 L83.50,352.15 L84.00,352.18 L84.50,352.21 L85.00,352.26 L85.50,352.31 L86.00,352.37 L86.50,352.44 L87.00,352.51 L87.50,352.59 L88.00,352.67 L88.50,352.74 L89.00,352.81 L89.50,352.88 L90.00,352.95 L90.50,353.01 L91.00,353.06 L91.50,353.10 L92.00,353.14 L92.50,353.17 L93.00,353.19 L93.50,353.21 L94.00,353.21 L94.50,353.21 L95.00,353.20 L95.50,353.17 L96.00,353.14 L96.50,353.09 L97.00,353.03 L97.50,352.96 L98.00,352.87 L98.50,352.77 L99.00,352.64 L99.50,352.51 L100.00,352.35 L100.50,352.18 L101.00,351.99 L101.50,351.79 L102.00,351.57 L102.50,351.33 L103.00,351.09 L103.50,350.84 L104.00,350.59 L104.50,350.34 L105.00,350.09 L105.50,349.85 L106.00,349.63 L106.50,349.42 L107.00,349.24 L107.50,349.09 L108.00,348.96 L108.50,348.87 L109.00,348.82 L109.50,348.80 L110.00,348.82 L110.50,348.88 L111.00,348.97 L111.50,349.10 L112.00,349.26 L112.50,349.45 L113.00,349.66 L113.50,349.89 L114.00,350.13 L114.50,350.38 L115.00,350.64 L115.50,350.89 L116.00,351.15 L116.50,351.39 L117.00,351.62 L117.50,351.84 L118.00,352.05 L118.50,352.24 L119.00,352.41 L119.50,352.56 L120.00,352.70 L120.50,352.82 L121.00,352.92 L121.50,353.01 L122.00,353.08 L122.50,353.15 L123.00,353.20 L123.50,353.24 L124.00,353.28 L124.50,353.28 L125.00,353.28 L125.50,353.28 L126.00,353.28 L126.50,353.28 L127.00,353.28 L127.50,353.28 L128.00,353.28 L128.50,353.28 L129.00,353.28 L129.50,353.28 L130.00,353.28 L130.50,353.28 L131.00,353.28 L131.50,353.28 L132.00,353.28 L132.00,353.52 L131.50,353.52 L131.00,353.52 L130.50,353.52 L130.00,353.52 L129.50,353.52 L129.00,353.52 L128.50,353.52 L128.00,353.52 L127.50,353.52 L127.00,353.52 L126.50,353.52 L126.00,353.52 L125.50,353.52 L125.00,353.52 L124.50,353.52 L124.00,353.52 L123.50,353.56 L123.00,353.60 L122.50,353.65 L122.00,353.72 L121.50,353.79 L121.00,353.88 L120.50,353.98 L120.00,354.10 L119.50,354.24 L119.00,354.39 L118.50,354.56 L118.00,354.75 L117.50,354.96 L117.00,355.18 L116.50,355.41 L116.00,355.65 L115.50,355.91 L115.00,356.16 L114.50,356.42 L114.00,356.67 L113.50,356.91 L113.00,357.14 L112.50,357.35 L112.00,357.54 L111.50,357.70 L111.00,357.83 L110.50,357.92 L110.00,357.98 L109.50,358.00 L109.00,357.98 L108.50,357.93 L108.00,357.84 L107.50,357.71 L107.00,357.56 L106.50,357.38 L106.00,357.17 L105.50,356.95 L105.00,356.71 L104.50,356.46 L104.00,356.21 L103.50,355.96 L103.00,355.71 L102.50,355.47 L102.00,355.23 L101.50,355.01 L101.00,354.81 L100.50,354.62 L100.00,354.45 L99.50,354.29 L99.00,354.16 L98.50,354.03 L98.00,353.93 L97.50,353.84 L97.00,353.77 L96.50,353.71 L96.00,353.66 L95.50,353.63 L95.00,353.60 L94.50,353.59 L94.00,353.59 L93.50,353.59 L93.00,353.61 L92.50,353.63 L92.00,353.66 L91.50,353.70 L91.00,353.74 L90.50,353.79 L90.00,353.85 L89.50,353.92 L89.00,353.99 L88.50,354.06 L88.00,354.13 L87.50,354.21 L87.00,354.29 L86.50,354.36 L86.00,354.43 L85.50,354.49 L85.00,354.54 L84.50,354.59 L84.00,354.62 L83.50,354.65 L83.00,354.66 L82.50,354.66 L82.00,354.64 L81.50,354.62 L81.00,354.58 L80.50,354.53 L80.00,354.48 L79.50,354.41 L79.00,354.34 L78.50,354.27 L78.00,354.19 L77.50,354.12 L77.00,354.04 L76.50,353.97 L76.00,353.90 L75.50,353.83 L75.00,353.77 L74.50,353.72 L74.00,353.67 L73.50,353.62 L73.00,353.58 L72.50,353.55 L72.00,353.52 L71.50,353.52 L71.00,353.52 L70.50,353.52 L70.00,353.52 L69.50,353.52 L69.00,353.52 L68.50,353.52 L68.00,353.52 L67.50,353.52 L67.00,353.52 L66.50,353.52 Z" fill="#f08d5e" stroke="#1a1a1a" stroke-width="0.55"/>
<circle cx="82.80" cy="353.20" r="3.10" fill="#e8895a" stroke="#111" stroke-width="0.6"/>
<circle cx="106.20" cy="355.00" r="3.10" fill="#e8895a" stroke="#111" stroke-width="0.6"/>
<circle cx="108.40" cy="354.30" r="3.10" fill="#e8895a" stroke="#111" stroke-width="0.6"/>
<circle cx="110.30" cy="352.50" r="3.10" fill="#e8895a" stroke="#111" stroke-width="0.6"/>
<circle cx="111.90" cy="351.90" r="3.10" fill="#e8895a" stroke="#111" stroke-width="0.6"/>
<path d="M111.50,366.98 L112.00,366.98 L112.50,366.94 L113.00,366.89 L113.50,366.83 L114.00,366.75 L114.50,366.66 L115.00,366.54 L115.50,366.41 L116.00,366.25 L116.50,366.07 L117.00,365.87 L117.50,365.64 L118.00,365.40 L118.50,365.13 L119.00,364.85 L119.50,364.57 L120.00,364.28 L120.50,364.00 L121.00,363.73 L121.50,363.48 L122.00,363.26 L122.50,363.08 L123.00,362.94 L123.50,362.84 L124.00,362.80 L124.50,362.81 L125.00,362.87 L125.50,362.98 L126.00,363.13 L126.50,363.32 L127.00,363.55 L127.50,363.80 L128.00,364.06 L128.50,364.34 L129.00,364.61 L129.50,364.88 L130.00,365.13 L130.50,365.36 L131.00,365.57 L131.50,365.75 L132.00,365.90 L132.50,366.02 L133.00,366.11 L133.50,366.17 L134.00,366.20 L134.50,366.20 L135.00,366.19 L135.50,366.15 L136.00,366.10 L136.50,366.04 L137.00,365.97 L137.50,365.90 L138.00,365.84 L138.50,365.78 L139.00,365.72 L139.50,365.68 L140.00,365.66 L140.50,365.65 L141.00,365.66 L141.50,365.68 L142.00,365.72 L142.50,365.78 L143.00,365.85 L143.50,365.93 L144.00,366.01 L144.50,366.11 L145.00,366.20 L145.50,366.30 L146.00,366.40 L146.50,366.49 L147.00,366.57 L147.50,366.65 L148.00,366.73 L148.50,366.79 L149.00,366.85 L149.50,366.90 L150.00,366.94 L150.50,366.97 L151.00,366.98 L151.50,366.98 L152.00,366.98 L152.50,366.98 L153.00,366.98 L153.00,367.22 L152.50,367.22 L152.00,367.22 L151.50,367.22 L151.00,367.22 L150.50,367.23 L150.00,367.26 L149.50,367.30 L149.00,367.35 L148.50,367.41 L148.00,367.47 L147.50,367.55 L147.00,367.63 L146.50,367.71 L146.00,367.80 L145.50,367.90 L145.00,368.00 L144.50,368.09 L144.00,368.19 L143.50,368.27 L143.00,368.35 L142.50,368.42 L142.00,368.48 L141.50,368.52 L141.00,368.54 L140.50,368.55 L140.00,368.54 L139.50,368.52 L139.00,368.48 L138.50,368.42 L138.00,368.36 L137.50,368.30 L137.00,368.23 L136.50,368.16 L136.00,368.10 L135.50,368.05 L135.00,368.01 L134.50,368.00 L134.00,368.00 L133.50,368.03 L133.00,368.09 L132.50,368.18 L132.00,368.30 L131.50,368.45 L131.00,368.63 L130.50,368.84 L130.00,369.07 L129.50,369.32 L129.00,369.59 L128.50,369.86 L128.00,370.14 L127.50,370.40 L127.00,370.65 L126.50,370.88 L126.00,371.07 L125.50,371.22 L125.00,371.33 L124.50,371.39 L124.00,371.40 L123.50,371.36 L123.00,371.26 L122.50,371.12 L122.00,370.94 L121.50,370.72 L121.00,370.47 L120.50,370.20 L120.00,369.92 L119.50,369.63 L119.00,369.35 L118.50,369.07 L118.00,368.80 L117.50,368.56 L117.00,368.33 L116.50,368.13 L116.00,367.95 L115.50,367.79 L115.00,367.66 L114.50,367.54 L114.00,367.45 L113.50,367.37 L113.00,367.31 L112.50,367.26 L112.00,367.22 L111.50,367.22 Z" fill="#b7a6f2" stroke="#1a1a1a" stroke-width="0.55"/>
<circle cx="124.80" cy="365.20" r="3.10" fill="#7b3ff2" stroke="#111" stroke-width="0.6"/>
<circle cx="123.20" cy="369.00" r="3.10" fill="#7b3ff2" stroke="#111" stroke-width="0.6"/>
<circle cx="124.00" cy="367.20" r="3.10" fill="#7b3ff2" stroke="#111" stroke-width="0.6"/>
<circle cx="140.60" cy="367.00" r="3.10" fill="#7b3ff2" stroke="#111" stroke-width="0.6"/>
<path d="M72.00,380.68 L72.50,380.68 L73.00,380.68 L73.50,380.68 L74.00,380.68 L74.50,380.68 L75.00,380.68 L75.50,380.68 L76.00,380.68 L76.50,380.68 L77.00,380.64 L77.50,380.57 L78.00,380.48 L78.50,380.36 L79.00,380.21 L79.50,380.03 L80.00,379.80 L80.50,379.54 L81.00,379.24 L81.50,378.91 L82.00,378.54 L82.50,378.16 L83.00,377.77 L83.50,377.40 L84.00,377.04 L84.50,376.74 L85.00,376.48 L85.50,376.31 L86.00,376.21 L86.50,376.20 L87.00,376.28 L87.50,376.44 L88.00,376.67 L88.50,376.97 L89.00,377.31 L89.50,377.67 L90.00,378.04 L90.50,378.40 L91.00,378.74 L91.50,379.04 L92.00,379.29 L92.50,379.48 L93.00,379.61 L93.50,379.68 L94.00,379.67 L94.50,379.60 L95.00,379.46 L95.50,379.26 L96.00,379.00 L96.50,378.70 L97.00,378.37 L97.50,378.01 L98.00,377.64 L98.50,377.29 L99.00,376.97 L99.50,376.69 L100.00,376.47 L100.50,376.32 L101.00,376.25 L101.50,376.27 L102.00,376.37 L102.50,376.55 L103.00,376.80 L103.50,377.10 L104.00,377.45 L104.50,377.82 L105.00,378.20 L105.50,378.57 L106.00,378.92 L106.50,379.25 L107.00,379.55 L107.50,379.80 L108.00,380.02 L108.50,380.21 L109.00,380.35 L109.50,380.47 L110.00,380.56 L110.50,380.63 L111.00,380.68 L111.50,380.68 L112.00,380.68 L112.50,380.68 L113.00,380.68 L113.50,380.68 L114.00,380.68 L114.50,380.68 L114.50,380.92 L114.00,380.92 L113.50,380.92 L113.00,380.92 L112.50,380.92 L112.00,380.92 L111.50,380.92 L111.00,380.92 L110.50,380.97 L110.00,381.04 L109.50,381.13 L109.00,381.25 L108.50,381.39 L108.00,381.58 L107.50,381.80 L107.00,382.05 L106.50,382.35 L106.00,382.68 L105.50,383.03 L105.00,383.40 L104.50,383.78 L104.00,384.15 L103.50,384.50 L103.00,384.80 L102.50,385.05 L102.00,385.23 L101.50,385.33 L101.00,385.35 L100.50,385.28 L100.00,385.13 L99.50,384.91 L99.00,384.63 L98.50,384.31 L98.00,383.96 L97.50,383.59 L97.00,383.23 L96.50,382.90 L96.00,382.60 L95.50,382.34 L95.00,382.14 L94.50,382.00 L94.00,381.93 L93.50,381.92 L93.00,381.99 L92.50,382.12 L92.00,382.31 L91.50,382.56 L91.00,382.86 L90.50,383.20 L90.00,383.56 L89.50,383.93 L89.00,384.29 L88.50,384.63 L88.00,384.93 L87.50,385.16 L87.00,385.32 L86.50,385.40 L86.00,385.39 L85.50,385.29 L85.00,385.12 L84.50,384.86 L84.00,384.56 L83.50,384.20 L83.00,383.83 L82.50,383.44 L82.00,383.06 L81.50,382.69 L81.00,382.36 L80.50,382.06 L80.00,381.80 L79.50,381.57 L79.00,381.39 L78.50,381.24 L78.00,381.12 L77.50,381.03 L77.00,380.96 L76.50,380.92 L76.00,380.92 L75.50,380.92 L75.00,380.92 L74.50,380.92 L74.00,380.92 L73.50,380.92 L73.00,380.92 L72.50,380.92 L72.00,380.92 Z" fill="#8fd2b4" stroke="#1a1a1a" stroke-width="0.55"/>
<circle cx="86.30" cy="378.70" r="3.10" fill="#78c4a2" stroke="#111" stroke-width="0.6"/>
<circle cx="86.30" cy="382.60" r="3.10" fill="#78c4a2" stroke="#111" stroke-width="0.6"/>
<circle cx="101.70" cy="378.70" r="3.10" fill="#78c4a2" stroke="#111" stroke-width="0.6"/>
<circle cx="100.60" cy="382.40" r="3.10" fill="#78c4a2" stroke="#111" stroke-width="0.6"/>
<line x1="165.50" y1="367.00" x2="165.50" y2="380.60" stroke="#777" stroke-width="1.0" />
<path d="M169.65,369.60 L174.15,369.60 M170.78,367.65 L173.03,371.55 M173.03,367.65 L170.78,371.55" stroke="#111" stroke-width="1.15" stroke-linecap="round" fill="none"/>
<circle cx="171.90" cy="369.60" r="1.45" fill="#111" stroke="none" stroke-width="0.5"/>
<path d="M169.65,374.20 L174.15,374.20 M170.78,372.25 L173.03,376.15 M173.03,372.25 L170.78,376.15" stroke="#111" stroke-width="1.15" stroke-linecap="round" fill="none"/>
<circle cx="171.90" cy="374.20" r="1.45" fill="#111" stroke="none" stroke-width="0.5"/>
<path d="M169.65,378.80 L174.15,378.80 M170.78,376.85 L173.03,380.75 M173.03,376.85 L170.78,380.75" stroke="#111" stroke-width="1.15" stroke-linecap="round" fill="none"/>
<circle cx="171.90" cy="378.80" r="1.45" fill="#111" stroke="none" stroke-width="0.5"/>
<line x1="184.50" y1="353.70" x2="184.50" y2="367.00" stroke="#555" stroke-width="0.9" />
<path d="M189.05,358.20 L193.55,358.20 M190.18,356.25 L192.43,360.15 M192.43,356.25 L190.18,360.15" stroke="#111" stroke-width="1.15" stroke-linecap="round" fill="none"/>
<circle cx="191.30" cy="358.20" r="1.45" fill="#111" stroke="none" stroke-width="0.5"/>
<path d="M189.05,362.90 L193.55,362.90 M190.18,360.95 L192.43,364.85 M192.43,360.95 L190.18,364.85" stroke="#111" stroke-width="1.15" stroke-linecap="round" fill="none"/>
<circle cx="191.30" cy="362.90" r="1.45" fill="#111" stroke="none" stroke-width="0.5"/>
<line x1="203.90" y1="340.00" x2="203.90" y2="367.40" stroke="#999" stroke-width="1.2" />
<path d="M208.75,349.30 L213.25,349.30 M209.88,347.35 L212.12,351.25 M212.12,347.35 L209.88,351.25" stroke="#111" stroke-width="1.15" stroke-linecap="round" fill="none"/>
<circle cx="211.00" cy="349.30" r="1.45" fill="#111" stroke="none" stroke-width="0.5"/>
<path d="M208.75,353.90 L213.25,353.90 M209.88,351.95 L212.12,355.85 M212.12,351.95 L209.88,355.85" stroke="#111" stroke-width="1.15" stroke-linecap="round" fill="none"/>
<circle cx="211.00" cy="353.90" r="1.45" fill="#111" stroke="none" stroke-width="0.5"/>
<path d="M208.75,358.50 L213.25,358.50 M209.88,356.55 L212.12,360.45 M212.12,356.55 L209.88,360.45" stroke="#111" stroke-width="1.15" stroke-linecap="round" fill="none"/>
<circle cx="211.00" cy="358.50" r="1.45" fill="#111" stroke="none" stroke-width="0.5"/>
<text x="17.00" y="420.30" font-size="17.5" text-anchor="start" font-weight="bold" font-style="normal" fill="#000" stroke="#000" stroke-width="0" >d</text>
<line x1="70.40" y1="428.20" x2="178.60" y2="428.20" stroke="#a8a8a8" stroke-width="1.0" />
<line x1="70.40" y1="445.40" x2="178.60" y2="445.40" stroke="#a8a8a8" stroke-width="1.0" />
<line x1="70.40" y1="462.90" x2="178.60" y2="462.90" stroke="#a8a8a8" stroke-width="1.0" />
<line x1="70.40" y1="416.40" x2="70.40" y2="475.60" stroke="#444" stroke-width="0.9" />
<line x1="70.40" y1="475.60" x2="178.55" y2="475.60" stroke="#444" stroke-width="0.9" />
<line x1="70.40" y1="475.60" x2="70.40" y2="479.10" stroke="#444" stroke-width="0.9" />
<text x="70.40" y="491.60" font-size="11.0" text-anchor="middle" font-weight="normal" font-style="normal" fill="#111" stroke="#111" stroke-width="0.22" >0</text>
<line x1="106.45" y1="475.60" x2="106.45" y2="479.10" stroke="#444" stroke-width="0.9" />
<text x="106.45" y="491.60" font-size="11.0" text-anchor="middle" font-weight="normal" font-style="normal" fill="#111" stroke="#111" stroke-width="0.22" >5000</text>
<line x1="142.50" y1="475.60" x2="142.50" y2="479.10" stroke="#444" stroke-width="0.9" />
<text x="142.50" y="491.60" font-size="11.0" text-anchor="middle" font-weight="normal" font-style="normal" fill="#111" stroke="#111" stroke-width="0.22" >10000</text>
<line x1="178.55" y1="475.60" x2="178.55" y2="479.10" stroke="#444" stroke-width="0.9" />
<text x="178.55" y="491.60" font-size="11.0" text-anchor="middle" font-weight="normal" font-style="normal" fill="#111" stroke="#111" stroke-width="0.22" >15000</text>
<line x1="65.40" y1="428.20" x2="70.40" y2="428.20" stroke="#777" stroke-width="0.8" />
<text x="64.40" y="432.00" font-size="11.0" text-anchor="end" font-weight="normal" font-style="normal" fill="#111" stroke="#111" stroke-width="0.22" >LV::S7</text>
<line x1="65.40" y1="445.40" x2="70.40" y2="445.40" stroke="#777" stroke-width="0.8" />
<text x="64.40" y="449.20" font-size="11.0" text-anchor="end" font-weight="normal" font-style="normal" fill="#111" stroke="#111" stroke-width="0.22" >LV::S7-PEST</text>
<line x1="65.40" y1="462.90" x2="70.40" y2="462.90" stroke="#777" stroke-width="0.8" />
<text x="64.40" y="466.70" font-size="11.0" text-anchor="end" font-weight="normal" font-style="normal" fill="#111" stroke="#111" stroke-width="0.22" >LV::UBS7</text>
<path d="M77.00,428.02 L77.50,427.95 L78.00,427.86 L78.50,427.73 L79.00,427.58 L79.50,427.38 L80.00,427.15 L80.50,426.88 L81.00,426.58 L81.50,426.24 L82.00,425.87 L82.50,425.48 L83.00,425.10 L83.50,424.72 L84.00,424.38 L84.50,424.08 L85.00,423.84 L85.50,423.68 L86.00,423.60 L86.50,423.61 L87.00,423.70 L87.50,423.88 L88.00,424.13 L88.50,424.43 L89.00,424.77 L89.50,425.14 L90.00,425.51 L90.50,425.87 L91.00,426.19 L91.50,426.48 L92.00,426.71 L92.50,426.88 L93.00,426.99 L93.50,427.02 L94.00,426.99 L94.50,426.88 L95.00,426.71 L95.50,426.48 L96.00,426.19 L96.50,425.87 L97.00,425.51 L97.50,425.14 L98.00,424.77 L98.50,424.43 L99.00,424.13 L99.50,423.88 L100.00,423.70 L100.50,423.61 L101.00,423.60 L101.50,423.68 L102.00,423.84 L102.50,424.08 L103.00,424.38 L103.50,424.72 L104.00,425.10 L104.50,425.48 L105.00,425.87 L105.50,426.24 L106.00,426.58 L106.50,426.88 L107.00,427.15 L107.50,427.38 L108.00,427.58 L108.50,427.73 L109.00,427.86 L109.50,427.95 L110.00,428.02 L110.50,428.08 L111.00,428.08 L111.50,428.08 L112.00,428.08 L112.50,428.08 L113.00,428.08 L113.00,428.32 L112.50,428.32 L112.00,428.32 L111.50,428.32 L111.00,428.32 L110.50,428.32 L110.00,428.38 L109.50,428.45 L109.00,428.54 L108.50,428.67 L108.00,428.82 L107.50,429.02 L107.00,429.25 L106.50,429.52 L106.00,429.82 L105.50,430.16 L105.00,430.53 L104.50,430.92 L104.00,431.30 L103.50,431.68 L103.00,432.02 L102.50,432.32 L102.00,432.56 L101.50,432.72 L101.00,432.80 L100.50,432.79 L100.00,432.70 L99.50,432.52 L99.00,432.27 L98.50,431.97 L98.00,431.63 L97.50,431.26 L97.00,430.89 L96.50,430.53 L96.00,430.21 L95.50,429.92 L95.00,429.69 L94.50,429.52 L94.00,429.41 L93.50,429.38 L93.00,429.41 L92.50,429.52 L92.00,429.69 L91.50,429.92 L91.00,430.21 L90.50,430.53 L90.00,430.89 L89.50,431.26 L89.00,431.63 L88.50,431.97 L88.00,432.27 L87.50,432.52 L87.00,432.70 L86.50,432.79 L86.00,432.80 L85.50,432.72 L85.00,432.56 L84.50,432.32 L84.00,432.02 L83.50,431.68 L83.00,431.30 L82.50,430.92 L82.00,430.53 L81.50,430.16 L81.00,429.82 L80.50,429.52 L80.00,429.25 L79.50,429.02 L79.00,428.82 L78.50,428.67 L78.00,428.54 L77.50,428.45 L77.00,428.38 Z" fill="#8fd2b4" stroke="#1a1a1a" stroke-width="0.55"/>
<circle cx="86.20" cy="425.50" r="3.10" fill="#78c4a2" stroke="#111" stroke-width="0.6"/>
<circle cx="86.20" cy="430.80" r="3.10" fill="#78c4a2" stroke="#111" stroke-width="0.6"/>
<circle cx="100.80" cy="425.50" r="3.10" fill="#78c4a2" stroke="#111" stroke-width="0.6"/>
<circle cx="100.80" cy="430.80" r="3.10" fill="#78c4a2" stroke="#111" stroke-width="0.6"/>
<path d="M98.00,445.28 L98.50,445.28 L99.00,445.28 L99.50,445.25 L100.00,445.21 L100.50,445.16 L101.00,445.10 L101.50,445.04 L102.00,444.96 L102.50,444.88 L103.00,444.79 L103.50,444.69 L104.00,444.58 L104.50,444.46 L105.00,444.34 L105.50,444.21 L106.00,444.09 L106.50,443.96 L107.00,443.83 L107.50,443.70 L108.00,443.58 L108.50,443.47 L109.00,443.36 L109.50,443.26 L110.00,443.16 L110.50,443.08 L111.00,443.00 L111.50,442.92 L112.00,442.85 L112.50,442.79 L113.00,442.73 L113.50,442.67 L114.00,442.61 L114.50,442.56 L115.00,442.50 L115.50,442.44 L116.00,442.39 L116.50,442.33 L117.00,442.27 L117.50,442.21 L118.00,442.14 L118.50,442.07 L119.00,442.00 L119.50,441.93 L120.00,441.87 L120.50,441.80 L121.00,441.74 L121.50,441.69 L122.00,441.64 L122.50,441.61 L123.00,441.60 L123.50,441.61 L124.00,441.63 L124.50,441.68 L125.00,441.76 L125.50,441.86 L126.00,441.99 L126.50,442.14 L127.00,442.31 L127.50,442.50 L128.00,442.70 L128.50,442.92 L129.00,443.14 L129.50,443.37 L130.00,443.59 L130.50,443.80 L131.00,444.01 L131.50,444.20 L132.00,444.38 L132.50,444.54 L133.00,444.68 L133.50,444.81 L134.00,444.92 L134.50,445.02 L135.00,445.09 L135.50,445.16 L136.00,445.21 L136.00,445.59 L135.50,445.64 L135.00,445.71 L134.50,445.78 L134.00,445.88 L133.50,445.99 L133.00,446.12 L132.50,446.26 L132.00,446.42 L131.50,446.60 L131.00,446.79 L130.50,447.00 L130.00,447.21 L129.50,447.43 L129.00,447.66 L128.50,447.88 L128.00,448.10 L127.50,448.30 L127.00,448.49 L126.50,448.66 L126.00,448.81 L125.50,448.94 L125.00,449.04 L124.50,449.12 L124.00,449.17 L123.50,449.19 L123.00,449.20 L122.50,449.19 L122.00,449.16 L121.50,449.11 L121.00,449.06 L120.50,449.00 L120.00,448.93 L119.50,448.87 L119.00,448.80 L118.50,448.73 L118.00,448.66 L117.50,448.59 L117.00,448.53 L116.50,448.47 L116.00,448.41 L115.50,448.36 L115.00,448.30 L114.50,448.24 L114.00,448.19 L113.50,448.13 L113.00,448.07 L112.50,448.01 L112.00,447.95 L111.50,447.88 L111.00,447.80 L110.50,447.72 L110.00,447.64 L109.50,447.54 L109.00,447.44 L108.50,447.33 L108.00,447.22 L107.50,447.10 L107.00,446.97 L106.50,446.84 L106.00,446.71 L105.50,446.59 L105.00,446.46 L104.50,446.34 L104.00,446.22 L103.50,446.11 L103.00,446.01 L102.50,445.92 L102.00,445.84 L101.50,445.76 L101.00,445.70 L100.50,445.64 L100.00,445.59 L99.50,445.55 L99.00,445.52 L98.50,445.52 L98.00,445.52 Z" fill="#2ad42a" stroke="#1a1a1a" stroke-width="0.55"/>
<circle cx="108.80" cy="448.70" r="3.10" fill="#14821f" stroke="#111" stroke-width="0.6"/>
<circle cx="115.00" cy="443.30" r="3.10" fill="#14821f" stroke="#111" stroke-width="0.6"/>
<circle cx="125.40" cy="443.00" r="3.10" fill="#14821f" stroke="#111" stroke-width="0.6"/>
<circle cx="125.40" cy="449.00" r="3.10" fill="#14821f" stroke="#111" stroke-width="0.6"/>
<path d="M98.00,462.78 L98.50,462.78 L99.00,462.78 L99.50,462.78 L100.00,462.76 L100.50,462.71 L101.00,462.66 L101.50,462.59 L102.00,462.52 L102.50,462.42 L103.00,462.32 L103.50,462.19 L104.00,462.04 L104.50,461.88 L105.00,461.70 L105.50,461.50 L106.00,461.28 L106.50,461.05 L107.00,460.80 L107.50,460.55 L108.00,460.28 L108.50,460.02 L109.00,459.75 L109.50,459.50 L110.00,459.25 L110.50,459.03 L111.00,458.82 L111.50,458.65 L112.00,458.50 L112.50,458.40 L113.00,458.33 L113.50,458.30 L114.00,458.31 L114.50,458.37 L115.00,458.47 L115.50,458.60 L116.00,458.77 L116.50,458.98 L117.00,459.20 L117.50,459.45 L118.00,459.71 L118.50,459.98 L119.00,460.25 L119.50,460.52 L120.00,460.77 L120.50,461.01 L121.00,461.23 L121.50,461.42 L122.00,461.59 L122.50,461.73 L123.00,461.84 L123.50,461.92 L124.00,461.97 L124.50,461.99 L125.00,461.99 L125.50,461.96 L126.00,461.91 L126.50,461.85 L127.00,461.77 L127.50,461.68 L128.00,461.59 L128.50,461.49 L129.00,461.40 L129.50,461.32 L130.00,461.25 L130.50,461.20 L131.00,461.16 L131.50,461.15 L132.00,461.15 L132.50,461.17 L133.00,461.22 L133.50,461.28 L134.00,461.36 L134.50,461.46 L135.00,461.56 L135.50,461.67 L136.00,461.79 L136.50,461.91 L137.00,462.03 L137.50,462.14 L138.00,462.24 L138.50,462.34 L139.00,462.43 L139.50,462.51 L140.00,462.58 L140.50,462.64 L141.00,462.69 L141.50,462.74 L142.00,462.77 L142.50,462.78 L143.00,462.78 L143.50,462.78 L143.50,463.02 L143.00,463.02 L142.50,463.02 L142.00,463.03 L141.50,463.06 L141.00,463.11 L140.50,463.16 L140.00,463.22 L139.50,463.29 L139.00,463.37 L138.50,463.46 L138.00,463.56 L137.50,463.66 L137.00,463.77 L136.50,463.89 L136.00,464.01 L135.50,464.13 L135.00,464.24 L134.50,464.34 L134.00,464.44 L133.50,464.52 L133.00,464.58 L132.50,464.63 L132.00,464.65 L131.50,464.65 L131.00,464.64 L130.50,464.60 L130.00,464.55 L129.50,464.48 L129.00,464.40 L128.50,464.31 L128.00,464.21 L127.50,464.12 L127.00,464.03 L126.50,463.95 L126.00,463.89 L125.50,463.84 L125.00,463.81 L124.50,463.81 L124.00,463.83 L123.50,463.88 L123.00,463.96 L122.50,464.07 L122.00,464.21 L121.50,464.38 L121.00,464.57 L120.50,464.79 L120.00,465.03 L119.50,465.28 L119.00,465.55 L118.50,465.82 L118.00,466.09 L117.50,466.35 L117.00,466.60 L116.50,466.82 L116.00,467.03 L115.50,467.20 L115.00,467.33 L114.50,467.43 L114.00,467.49 L113.50,467.50 L113.00,467.47 L112.50,467.40 L112.00,467.30 L111.50,467.15 L111.00,466.98 L110.50,466.77 L110.00,466.55 L109.50,466.30 L109.00,466.05 L108.50,465.78 L108.00,465.52 L107.50,465.25 L107.00,465.00 L106.50,464.75 L106.00,464.52 L105.50,464.30 L105.00,464.10 L104.50,463.92 L104.00,463.76 L103.50,463.61 L103.00,463.48 L102.50,463.38 L102.00,463.28 L101.50,463.21 L101.00,463.14 L100.50,463.09 L100.00,463.04 L99.50,463.02 L99.00,463.02 L98.50,463.02 L98.00,463.02 Z" fill="#27c627" stroke="#1a1a1a" stroke-width="0.55"/>
<circle cx="110.30" cy="466.20" r="3.10" fill="#14821f" stroke="#111" stroke-width="0.6"/>
<circle cx="116.00" cy="464.00" r="3.10" fill="#14821f" stroke="#111" stroke-width="0.6"/>
<circle cx="115.70" cy="460.60" r="3.10" fill="#14821f" stroke="#111" stroke-width="0.6"/>
<circle cx="131.70" cy="463.40" r="3.10" fill="#14821f" stroke="#111" stroke-width="0.6"/>
<line x1="156.90" y1="428.20" x2="156.90" y2="445.60" stroke="#777" stroke-width="1.0" />
<path d="M161.75,434.50 L166.25,434.50 M162.88,432.55 L165.12,436.45 M165.12,432.55 L162.88,436.45" stroke="#111" stroke-width="1.15" stroke-linecap="round" fill="none"/>
<circle cx="164.00" cy="434.50" r="1.45" fill="#111" stroke="none" stroke-width="0.5"/>
<path d="M161.75,439.60 L166.25,439.60 M162.88,437.65 L165.12,441.55 M165.12,437.65 L162.88,441.55" stroke="#111" stroke-width="1.15" stroke-linecap="round" fill="none"/>
<circle cx="164.00" cy="439.60" r="1.45" fill="#111" stroke="none" stroke-width="0.5"/>
<line x1="176.50" y1="428.20" x2="176.50" y2="463.00" stroke="#444" stroke-width="0.9" />
<path d="M181.05,443.50 L185.55,443.50 M182.18,441.55 L184.43,445.45 M184.43,441.55 L182.18,445.45" stroke="#111" stroke-width="1.15" stroke-linecap="round" fill="none"/>
<circle cx="183.30" cy="443.50" r="1.45" fill="#111" stroke="none" stroke-width="0.5"/>
<path d="M181.05,448.70 L185.55,448.70 M182.18,446.75 L184.43,450.65 M184.43,446.75 L182.18,450.65" stroke="#111" stroke-width="1.15" stroke-linecap="round" fill="none"/>
<circle cx="183.30" cy="448.70" r="1.45" fill="#111" stroke="none" stroke-width="0.5"/>
<text x="237.60" y="328.60" font-size="17.5" text-anchor="start" font-weight="bold" font-style="normal" fill="#000" stroke="#000" stroke-width="0" >e</text>
<line x1="288.90" y1="342.80" x2="396.50" y2="342.80" stroke="#a8a8a8" stroke-width="1.0" />
<line x1="288.90" y1="360.50" x2="396.50" y2="360.50" stroke="#a8a8a8" stroke-width="1.0" />
<line x1="288.90" y1="377.90" x2="396.50" y2="377.90" stroke="#a8a8a8" stroke-width="1.0" />
<line x1="288.90" y1="331.50" x2="288.90" y2="390.10" stroke="#444" stroke-width="0.9" />
<line x1="288.90" y1="390.10" x2="396.51" y2="390.10" stroke="#444" stroke-width="0.9" />
<line x1="288.90" y1="390.10" x2="288.90" y2="393.60" stroke="#444" stroke-width="0.9" />
<text x="288.90" y="406.10" font-size="11.0" text-anchor="middle" font-weight="normal" font-style="normal" fill="#111" stroke="#111" stroke-width="0.22" >0</text>
<line x1="324.77" y1="390.10" x2="324.77" y2="393.60" stroke="#444" stroke-width="0.9" />
<text x="324.77" y="406.10" font-size="11.0" text-anchor="middle" font-weight="normal" font-style="normal" fill="#111" stroke="#111" stroke-width="0.22" >5000</text>
<line x1="360.64" y1="390.10" x2="360.64" y2="393.60" stroke="#444" stroke-width="0.9" />
<text x="360.64" y="406.10" font-size="11.0" text-anchor="middle" font-weight="normal" font-style="normal" fill="#111" stroke="#111" stroke-width="0.22" >10000</text>
<line x1="396.51" y1="390.10" x2="396.51" y2="393.60" stroke="#444" stroke-width="0.9" />
<text x="396.51" y="406.10" font-size="11.0" text-anchor="middle" font-weight="normal" font-style="normal" fill="#111" stroke="#111" stroke-width="0.22" >15000</text>
<line x1="283.90" y1="342.80" x2="288.90" y2="342.80" stroke="#777" stroke-width="0.8" />
<text x="282.90" y="346.60" font-size="11.0" text-anchor="end" font-weight="normal" font-style="normal" fill="#111" stroke="#111" stroke-width="0.22" >LV::A7</text>
<line x1="283.90" y1="360.50" x2="288.90" y2="360.50" stroke="#777" stroke-width="0.8" />
<text x="282.90" y="364.30" font-size="11.0" text-anchor="end" font-weight="normal" font-style="normal" fill="#111" stroke="#111" stroke-width="0.22" >LV::A7-PEST</text>
<line x1="283.90" y1="377.90" x2="288.90" y2="377.90" stroke="#777" stroke-width="0.8" />
<text x="282.90" y="381.70" font-size="11.0" text-anchor="end" font-weight="normal" font-style="normal" fill="#111" stroke="#111" stroke-width="0.22" >LV::UBA7</text>
<path d="M331.00,342.68 L331.50,342.66 L332.00,342.62 L332.50,342.56 L333.00,342.48 L333.50,342.39 L334.00,342.27 L334.50,342.13 L335.00,341.97 L335.50,341.78 L336.00,341.57 L336.50,341.33 L337.00,341.07 L337.50,340.79 L338.00,340.49 L338.50,340.19 L339.00,339.89 L339.50,339.59 L340.00,339.32 L340.50,339.07 L341.00,338.86 L341.50,338.69 L342.00,338.57 L342.50,338.51 L343.00,338.50 L343.50,338.55 L344.00,338.66 L344.50,338.82 L345.00,339.02 L345.50,339.26 L346.00,339.53 L346.50,339.81 L347.00,340.11 L347.50,340.40 L348.00,340.69 L348.50,340.96 L349.00,341.20 L349.50,341.42 L350.00,341.61 L350.50,341.76 L351.00,341.89 L351.50,341.97 L352.00,342.03 L352.50,342.05 L353.00,342.05 L353.50,342.02 L354.00,341.97 L354.50,341.91 L355.00,341.83 L355.50,341.75 L356.00,341.66 L356.50,341.58 L357.00,341.50 L357.50,341.44 L358.00,341.38 L358.50,341.35 L359.00,341.33 L359.50,341.33 L360.00,341.36 L360.50,341.40 L361.00,341.46 L361.50,341.54 L362.00,341.62 L362.50,341.72 L363.00,341.83 L363.50,341.93 L364.00,342.04 L364.50,342.14 L365.00,342.23 L365.50,342.32 L366.00,342.40 L366.50,342.48 L367.00,342.54 L367.50,342.59 L368.00,342.64 L368.50,342.67 L369.00,342.68 L369.50,342.68 L370.00,342.68 L370.50,342.68 L371.00,342.68 L371.00,342.92 L370.50,342.92 L370.00,342.92 L369.50,342.92 L369.00,342.92 L368.50,342.93 L368.00,342.96 L367.50,343.01 L367.00,343.06 L366.50,343.12 L366.00,343.20 L365.50,343.28 L365.00,343.37 L364.50,343.46 L364.00,343.56 L363.50,343.67 L363.00,343.77 L362.50,343.88 L362.00,343.98 L361.50,344.06 L361.00,344.14 L360.50,344.20 L360.00,344.24 L359.50,344.27 L359.00,344.27 L358.50,344.25 L358.00,344.22 L357.50,344.16 L357.00,344.10 L356.50,344.02 L356.00,343.94 L355.50,343.85 L355.00,343.77 L354.50,343.69 L354.00,343.63 L353.50,343.58 L353.00,343.55 L352.50,343.55 L352.00,343.57 L351.50,343.63 L351.00,343.71 L350.50,343.84 L350.00,343.99 L349.50,344.18 L349.00,344.40 L348.50,344.64 L348.00,344.91 L347.50,345.20 L347.00,345.49 L346.50,345.79 L346.00,346.07 L345.50,346.34 L345.00,346.58 L344.50,346.78 L344.00,346.94 L343.50,347.05 L343.00,347.10 L342.50,347.09 L342.00,347.03 L341.50,346.91 L341.00,346.74 L340.50,346.53 L340.00,346.28 L339.50,346.01 L339.00,345.71 L338.50,345.41 L338.00,345.11 L337.50,344.81 L337.00,344.53 L336.50,344.27 L336.00,344.03 L335.50,343.82 L335.00,343.63 L334.50,343.47 L334.00,343.33 L333.50,343.21 L333.00,343.12 L332.50,343.04 L332.00,342.98 L331.50,342.94 L331.00,342.92 Z" fill="#b7a6f2" stroke="#1a1a1a" stroke-width="0.55"/>
<circle cx="343.90" cy="340.30" r="3.30" fill="#7b3ff2" stroke="#111" stroke-width="0.6"/>
<circle cx="341.70" cy="345.00" r="3.30" fill="#7b3ff2" stroke="#111" stroke-width="0.6"/>
<circle cx="359.20" cy="342.80" r="3.30" fill="#7b3ff2" stroke="#111" stroke-width="0.6"/>
<path d="M303.00,360.38 L303.50,360.38 L304.00,360.38 L304.50,360.38 L305.00,360.38 L305.50,360.38 L306.00,360.38 L306.50,360.38 L307.00,360.36 L307.50,360.32 L308.00,360.28 L308.50,360.24 L309.00,360.19 L309.50,360.13 L310.00,360.06 L310.50,359.99 L311.00,359.91 L311.50,359.83 L312.00,359.74 L312.50,359.65 L313.00,359.56 L313.50,359.46 L314.00,359.37 L314.50,359.27 L315.00,359.18 L315.50,359.09 L316.00,359.00 L316.50,358.92 L317.00,358.83 L317.50,358.76 L318.00,358.68 L318.50,358.60 L319.00,358.52 L319.50,358.44 L320.00,358.35 L320.50,358.26 L321.00,358.15 L321.50,358.04 L322.00,357.91 L322.50,357.77 L323.00,357.63 L323.50,357.47 L324.00,357.31 L324.50,357.14 L325.00,356.98 L325.50,356.82 L326.00,356.66 L326.50,356.53 L327.00,356.41 L327.50,356.31 L328.00,356.25 L328.50,356.21 L329.00,356.20 L329.50,356.22 L330.00,356.28 L330.50,356.37 L331.00,356.48 L331.50,356.62 L332.00,356.78 L332.50,356.95 L333.00,357.14 L333.50,357.32 L334.00,357.51 L334.50,357.69 L335.00,357.87 L335.50,358.03 L336.00,358.18 L336.50,358.31 L337.00,358.42 L337.50,358.51 L338.00,358.59 L338.50,358.66 L339.00,358.71 L339.50,358.75 L340.00,358.78 L340.50,358.81 L341.00,358.84 L341.50,358.88 L342.00,358.91 L342.50,358.95 L343.00,359.00 L343.50,359.05 L344.00,359.11 L344.50,359.18 L345.00,359.25 L345.50,359.33 L346.00,359.42 L346.50,359.51 L347.00,359.60 L347.50,359.68 L348.00,359.77 L348.50,359.86 L349.00,359.94 L349.50,360.01 L350.00,360.08 L350.50,360.14 L351.00,360.20 L351.50,360.25 L352.00,360.29 L352.50,360.33 L353.00,360.36 L353.50,360.38 L354.00,360.38 L354.50,360.38 L355.00,360.38 L355.50,360.38 L356.00,360.38 L356.50,360.38 L357.00,360.38 L357.00,360.62 L356.50,360.62 L356.00,360.62 L355.50,360.62 L355.00,360.62 L354.50,360.62 L354.00,360.62 L353.50,360.62 L353.00,360.64 L352.50,360.67 L352.00,360.71 L351.50,360.75 L351.00,360.80 L350.50,360.86 L350.00,360.92 L349.50,360.99 L349.00,361.06 L348.50,361.14 L348.00,361.23 L347.50,361.32 L347.00,361.40 L346.50,361.49 L346.00,361.58 L345.50,361.67 L345.00,361.75 L344.50,361.82 L344.00,361.89 L343.50,361.95 L343.00,362.00 L342.50,362.05 L342.00,362.09 L341.50,362.12 L341.00,362.16 L340.50,362.19 L340.00,362.22 L339.50,362.25 L339.00,362.29 L338.50,362.34 L338.00,362.41 L337.50,362.49 L337.00,362.58 L336.50,362.69 L336.00,362.82 L335.50,362.97 L335.00,363.13 L334.50,363.31 L334.00,363.49 L333.50,363.68 L333.00,363.86 L332.50,364.05 L332.00,364.22 L331.50,364.38 L331.00,364.52 L330.50,364.63 L330.00,364.72 L329.50,364.78 L329.00,364.80 L328.50,364.79 L328.00,364.75 L327.50,364.69 L327.00,364.59 L326.50,364.47 L326.00,364.34 L325.50,364.18 L325.00,364.02 L324.50,363.86 L324.00,363.69 L323.50,363.53 L323.00,363.37 L322.50,363.23 L322.00,363.09 L321.50,362.96 L321.00,362.85 L320.50,362.74 L320.00,362.65 L319.50,362.56 L319.00,362.48 L318.50,362.40 L318.00,362.32 L317.50,362.24 L317.00,362.17 L316.50,362.08 L316.00,362.00 L315.50,361.91 L315.00,361.82 L314.50,361.73 L314.00,361.63 L313.50,361.54 L313.00,361.44 L312.50,361.35 L312.00,361.26 L311.50,361.17 L311.00,361.09 L310.50,361.01 L310.00,360.94 L309.50,360.87 L309.00,360.81 L308.50,360.76 L308.00,360.72 L307.50,360.68 L307.00,360.64 L306.50,360.62 L306.00,360.62 L305.50,360.62 L305.00,360.62 L304.50,360.62 L304.00,360.62 L303.50,360.62 L303.00,360.62 Z" fill="#1fb6d6" stroke="#1a1a1a" stroke-width="0.55"/>
<circle cx="317.70" cy="360.60" r="3.30" fill="#2a86d6" stroke="#111" stroke-width="0.6"/>
<circle cx="327.70" cy="358.40" r="3.30" fill="#2a86d6" stroke="#111" stroke-width="0.6"/>
<circle cx="330.50" cy="363.00" r="3.30" fill="#2a86d6" stroke="#111" stroke-width="0.6"/>
<circle cx="342.20" cy="360.60" r="3.30" fill="#2a86d6" stroke="#111" stroke-width="0.6"/>
<path d="M301.00,377.78 L301.50,377.78 L302.00,377.78 L302.50,377.78 L303.00,377.78 L303.50,377.78 L304.00,377.78 L304.50,377.78 L305.00,377.78 L305.50,377.78 L306.00,377.78 L306.50,377.78 L307.00,377.78 L307.50,377.77 L308.00,377.73 L308.50,377.68 L309.00,377.61 L309.50,377.53 L310.00,377.44 L310.50,377.33 L311.00,377.19 L311.50,377.04 L312.00,376.86 L312.50,376.66 L313.00,376.44 L313.50,376.19 L314.00,375.93 L314.50,375.64 L315.00,375.34 L315.50,375.04 L316.00,374.73 L316.50,374.42 L317.00,374.12 L317.50,373.84 L318.00,373.58 L318.50,373.36 L319.00,373.18 L319.50,373.03 L320.00,372.94 L320.50,372.90 L321.00,372.91 L321.50,372.97 L322.00,373.08 L322.50,373.24 L323.00,373.44 L323.50,373.68 L324.00,373.94 L324.50,374.23 L325.00,374.53 L325.50,374.83 L326.00,375.14 L326.50,375.43 L327.00,375.71 L327.50,375.98 L328.00,376.22 L328.50,376.43 L329.00,376.61 L329.50,376.76 L330.00,376.87 L330.50,376.96 L331.00,377.00 L331.50,377.02 L332.00,376.99 L332.50,376.93 L333.00,376.84 L333.50,376.72 L334.00,376.56 L334.50,376.37 L335.00,376.16 L335.50,375.92 L336.00,375.66 L336.50,375.39 L337.00,375.10 L337.50,374.81 L338.00,374.52 L338.50,374.23 L339.00,373.96 L339.50,373.71 L340.00,373.49 L340.50,373.31 L341.00,373.16 L341.50,373.06 L342.00,373.01 L342.50,373.01 L343.00,373.05 L343.50,373.14 L344.00,373.28 L344.50,373.46 L345.00,373.67 L345.50,373.91 L346.00,374.18 L346.50,374.47 L347.00,374.76 L347.50,375.06 L348.00,375.35 L348.50,375.64 L349.00,375.92 L349.50,376.18 L350.00,376.42 L350.50,376.64 L351.00,376.84 L351.50,377.01 L352.00,377.17 L352.50,377.30 L353.00,377.41 L353.50,377.51 L354.00,377.59 L354.50,377.66 L355.00,377.71 L355.50,377.76 L356.00,377.78 L356.50,377.78 L357.00,377.78 L357.50,377.78 L358.00,377.78 L358.50,377.78 L359.00,377.78 L359.50,377.78 L360.00,377.78 L360.50,377.78 L361.00,377.78 L361.50,377.78 L361.50,378.02 L361.00,378.02 L360.50,378.02 L360.00,378.02 L359.50,378.02 L359.00,378.02 L358.50,378.02 L358.00,378.02 L357.50,378.02 L357.00,378.02 L356.50,378.02 L356.00,378.02 L355.50,378.04 L355.00,378.09 L354.50,378.14 L354.00,378.21 L353.50,378.29 L353.00,378.39 L352.50,378.50 L352.00,378.63 L351.50,378.79 L351.00,378.96 L350.50,379.16 L350.00,379.38 L349.50,379.62 L349.00,379.88 L348.50,380.16 L348.00,380.45 L347.50,380.74 L347.00,381.04 L346.50,381.33 L346.00,381.62 L345.50,381.89 L345.00,382.13 L344.50,382.34 L344.00,382.52 L343.50,382.66 L343.00,382.75 L342.50,382.79 L342.00,382.79 L341.50,382.74 L341.00,382.64 L340.50,382.49 L340.00,382.31 L339.50,382.09 L339.00,381.84 L338.50,381.57 L338.00,381.28 L337.50,380.99 L337.00,380.70 L336.50,380.41 L336.00,380.14 L335.50,379.88 L335.00,379.64 L334.50,379.43 L334.00,379.24 L333.50,379.08 L333.00,378.96 L332.50,378.87 L332.00,378.81 L331.50,378.78 L331.00,378.80 L330.50,378.84 L330.00,378.93 L329.50,379.04 L329.00,379.19 L328.50,379.37 L328.00,379.58 L327.50,379.82 L327.00,380.09 L326.50,380.37 L326.00,380.66 L325.50,380.97 L325.00,381.27 L324.50,381.57 L324.00,381.86 L323.50,382.12 L323.00,382.36 L322.50,382.56 L322.00,382.72 L321.50,382.83 L321.00,382.89 L320.50,382.90 L320.00,382.86 L319.50,382.77 L319.00,382.62 L318.50,382.44 L318.00,382.22 L317.50,381.96 L317.00,381.68 L316.50,381.38 L316.00,381.07 L315.50,380.76 L315.00,380.46 L314.50,380.16 L314.00,379.87 L313.50,379.61 L313.00,379.36 L312.50,379.14 L312.00,378.94 L311.50,378.76 L311.00,378.61 L310.50,378.47 L310.00,378.36 L309.50,378.27 L309.00,378.19 L308.50,378.12 L308.00,378.07 L307.50,378.03 L307.00,378.02 L306.50,378.02 L306.00,378.02 L305.50,378.02 L305.00,378.02 L304.50,378.02 L304.00,378.02 L303.50,378.02 L303.00,378.02 L302.50,378.02 L302.00,378.02 L301.50,378.02 L301.00,378.02 Z" fill="#c3c7f6" stroke="#1a1a1a" stroke-width="0.55"/>
<circle cx="321.50" cy="375.60" r="3.30" fill="#229ef2" stroke="#111" stroke-width="0.6"/>
<circle cx="319.80" cy="380.30" r="3.30" fill="#229ef2" stroke="#111" stroke-width="0.6"/>
<circle cx="343.60" cy="375.60" r="3.30" fill="#229ef2" stroke="#111" stroke-width="0.6"/>
<circle cx="341.00" cy="380.30" r="3.30" fill="#229ef2" stroke="#111" stroke-width="0.6"/>
<text x="241.60" y="412.00" font-size="17.5" text-anchor="start" font-weight="bold" font-style="normal" fill="#000" stroke="#000" stroke-width="0" >f</text>
<line x1="288.50" y1="425.40" x2="396.50" y2="425.40" stroke="#a8a8a8" stroke-width="1.0" />
<line x1="288.50" y1="438.90" x2="396.50" y2="438.90" stroke="#a8a8a8" stroke-width="1.0" />
<line x1="288.50" y1="452.40" x2="396.50" y2="452.40" stroke="#a8a8a8" stroke-width="1.0" />
<line x1="288.50" y1="466.40" x2="396.50" y2="466.40" stroke="#a8a8a8" stroke-width="1.0" />
<line x1="288.50" y1="416.10" x2="288.50" y2="475.70" stroke="#444" stroke-width="0.9" />
<line x1="288.50" y1="475.70" x2="396.50" y2="475.70" stroke="#444" stroke-width="0.9" />
<line x1="288.50" y1="475.70" x2="288.50" y2="479.20" stroke="#444" stroke-width="0.9" />
<text x="288.50" y="491.70" font-size="11.0" text-anchor="middle" font-weight="normal" font-style="normal" fill="#111" stroke="#111" stroke-width="0.22" >0</text>
<line x1="324.50" y1="475.70" x2="324.50" y2="479.20" stroke="#444" stroke-width="0.9" />
<text x="324.50" y="491.70" font-size="11.0" text-anchor="middle" font-weight="normal" font-style="normal" fill="#111" stroke="#111" stroke-width="0.22" >5000</text>
<line x1="360.50" y1="475.70" x2="360.50" y2="479.20" stroke="#444" stroke-width="0.9" />
<text x="360.50" y="491.70" font-size="11.0" text-anchor="middle" font-weight="normal" font-style="normal" fill="#111" stroke="#111" stroke-width="0.22" >10000</text>
<line x1="396.50" y1="475.70" x2="396.50" y2="479.20" stroke="#444" stroke-width="0.9" />
<text x="396.50" y="491.70" font-size="11.0" text-anchor="middle" font-weight="normal" font-style="normal" fill="#111" stroke="#111" stroke-width="0.22" >15000</text>
<line x1="283.50" y1="425.40" x2="288.50" y2="425.40" stroke="#777" stroke-width="0.8" />
<text x="282.50" y="429.20" font-size="11.0" text-anchor="end" font-weight="normal" font-style="normal" fill="#111" stroke="#111" stroke-width="0.22" >LV::A7-PEST</text>
<line x1="283.50" y1="438.90" x2="288.50" y2="438.90" stroke="#777" stroke-width="0.8" />
<text x="282.50" y="442.70" font-size="11.0" text-anchor="end" font-weight="normal" font-style="normal" fill="#111" stroke="#111" stroke-width="0.22" >LV::S7-PEST</text>
<line x1="283.50" y1="452.40" x2="288.50" y2="452.40" stroke="#777" stroke-width="0.8" />
<text x="282.50" y="456.20" font-size="11.0" text-anchor="end" font-weight="normal" font-style="normal" fill="#111" stroke="#111" stroke-width="0.22" >LV::UBA7</text>
<line x1="283.50" y1="466.40" x2="288.50" y2="466.40" stroke="#777" stroke-width="0.8" />
<text x="282.50" y="470.20" font-size="11.0" text-anchor="end" font-weight="normal" font-style="normal" fill="#111" stroke="#111" stroke-width="0.22" >LV::UBS7</text>
<path d="M302.00,425.28 L302.50,425.28 L303.00,425.28 L303.50,425.28 L304.00,425.28 L304.50,425.28 L305.00,425.28 L305.50,425.28 L306.00,425.28 L306.50,425.27 L307.00,425.23 L307.50,425.20 L308.00,425.16 L308.50,425.11 L309.00,425.06 L309.50,425.00 L310.00,424.93 L310.50,424.86 L311.00,424.79 L311.50,424.71 L312.00,424.63 L312.50,424.54 L313.00,424.46 L313.50,424.38 L314.00,424.29 L314.50,424.22 L315.00,424.14 L315.50,424.07 L316.00,424.00 L316.50,423.93 L317.00,423.87 L317.50,423.81 L318.00,423.75 L318.50,423.70 L319.00,423.63 L319.50,423.57 L320.00,423.50 L320.50,423.42 L321.00,423.32 L321.50,423.22 L322.00,423.11 L322.50,422.99 L323.00,422.86 L323.50,422.71 L324.00,422.57 L324.50,422.42 L325.00,422.27 L325.50,422.13 L326.00,421.99 L326.50,421.87 L327.00,421.77 L327.50,421.69 L328.00,421.63 L328.50,421.60 L329.00,421.60 L329.50,421.63 L330.00,421.68 L330.50,421.76 L331.00,421.86 L331.50,421.99 L332.00,422.13 L332.50,422.29 L333.00,422.45 L333.50,422.62 L334.00,422.78 L334.50,422.94 L335.00,423.09 L335.50,423.23 L336.00,423.36 L336.50,423.47 L337.00,423.57 L337.50,423.65 L338.00,423.71 L338.50,423.77 L339.00,423.81 L339.50,423.84 L340.00,423.87 L340.50,423.90 L341.00,423.92 L341.50,423.95 L342.00,423.98 L342.50,424.01 L343.00,424.05 L343.50,424.10 L344.00,424.16 L344.50,424.22 L345.00,424.28 L345.50,424.36 L346.00,424.43 L346.50,424.51 L347.00,424.59 L347.50,424.67 L348.00,424.75 L348.50,424.82 L349.00,424.89 L349.50,424.96 L350.00,425.02 L350.50,425.08 L351.00,425.13 L351.50,425.17 L352.00,425.21 L352.50,425.25 L353.00,425.28 L353.50,425.28 L354.00,425.28 L354.50,425.28 L355.00,425.28 L355.50,425.28 L356.00,425.28 L356.50,425.28 L357.00,425.28 L357.00,425.52 L356.50,425.52 L356.00,425.52 L355.50,425.52 L355.00,425.52 L354.50,425.52 L354.00,425.52 L353.50,425.52 L353.00,425.52 L352.50,425.55 L352.00,425.59 L351.50,425.63 L351.00,425.67 L350.50,425.72 L350.00,425.78 L349.50,425.84 L349.00,425.91 L348.50,425.98 L348.00,426.05 L347.50,426.13 L347.00,426.21 L346.50,426.29 L346.00,426.37 L345.50,426.44 L345.00,426.52 L344.50,426.58 L344.00,426.64 L343.50,426.70 L343.00,426.75 L342.50,426.79 L342.00,426.82 L341.50,426.85 L341.00,426.88 L340.50,426.90 L340.00,426.93 L339.50,426.96 L339.00,426.99 L338.50,427.03 L338.00,427.09 L337.50,427.15 L337.00,427.23 L336.50,427.33 L336.00,427.44 L335.50,427.57 L335.00,427.71 L334.50,427.86 L334.00,428.02 L333.50,428.18 L333.00,428.35 L332.50,428.51 L332.00,428.67 L331.50,428.81 L331.00,428.94 L330.50,429.04 L330.00,429.12 L329.50,429.17 L329.00,429.20 L328.50,429.20 L328.00,429.17 L327.50,429.11 L327.00,429.03 L326.50,428.93 L326.00,428.81 L325.50,428.67 L325.00,428.53 L324.50,428.38 L324.00,428.23 L323.50,428.09 L323.00,427.94 L322.50,427.81 L322.00,427.69 L321.50,427.58 L321.00,427.48 L320.50,427.38 L320.00,427.30 L319.50,427.23 L319.00,427.17 L318.50,427.10 L318.00,427.05 L317.50,426.99 L317.00,426.93 L316.50,426.87 L316.00,426.80 L315.50,426.73 L315.00,426.66 L314.50,426.58 L314.00,426.51 L313.50,426.42 L313.00,426.34 L312.50,426.26 L312.00,426.17 L311.50,426.09 L311.00,426.01 L310.50,425.94 L310.00,425.87 L309.50,425.80 L309.00,425.74 L308.50,425.69 L308.00,425.64 L307.50,425.60 L307.00,425.57 L306.50,425.53 L306.00,425.52 L305.50,425.52 L305.00,425.52 L304.50,425.52 L304.00,425.52 L303.50,425.52 L303.00,425.52 L302.50,425.52 L302.00,425.52 Z" fill="#1fb6d6" stroke="#1a1a1a" stroke-width="0.55"/>
<circle cx="317.10" cy="425.40" r="3.30" fill="#2a86d6" stroke="#111" stroke-width="0.6"/>
<circle cx="327.30" cy="423.40" r="3.30" fill="#2a86d6" stroke="#111" stroke-width="0.6"/>
<circle cx="330.50" cy="427.50" r="3.30" fill="#2a86d6" stroke="#111" stroke-width="0.6"/>
<circle cx="342.20" cy="425.40" r="3.30" fill="#2a86d6" stroke="#111" stroke-width="0.6"/>
<path d="M316.80,438.78 L317.30,438.75 L317.80,438.71 L318.30,438.66 L318.80,438.60 L319.30,438.53 L319.80,438.45 L320.30,438.36 L320.80,438.25 L321.30,438.14 L321.80,438.01 L322.30,437.87 L322.80,437.73 L323.30,437.58 L323.80,437.43 L324.30,437.27 L324.80,437.11 L325.30,436.96 L325.80,436.82 L326.30,436.68 L326.80,436.55 L327.30,436.44 L327.80,436.33 L328.30,436.25 L328.80,436.17 L329.30,436.11 L329.80,436.07 L330.30,436.04 L330.80,436.02 L331.30,436.01 L331.80,436.02 L332.30,436.03 L332.80,436.05 L333.30,436.08 L333.80,436.11 L334.30,436.13 L334.80,436.16 L335.30,436.17 L335.80,436.18 L336.30,436.17 L336.80,436.15 L337.30,436.11 L337.80,436.05 L338.30,435.97 L338.80,435.88 L339.30,435.78 L339.80,435.66 L340.30,435.55 L340.80,435.43 L341.30,435.32 L341.80,435.23 L342.30,435.16 L342.80,435.11 L343.30,435.10 L343.80,435.12 L344.30,435.18 L344.80,435.27 L345.30,435.40 L345.80,435.56 L346.30,435.75 L346.80,435.97 L347.30,436.20 L347.80,436.44 L348.30,436.68 L348.80,436.93 L349.30,437.17 L349.80,437.40 L350.30,437.61 L350.80,437.81 L351.30,437.99 L351.80,438.14 L352.30,438.28 L352.80,438.40 L353.30,438.50 L353.80,438.59 L354.30,438.66 L354.80,438.71 L355.30,438.76 L355.30,439.04 L354.80,439.09 L354.30,439.14 L353.80,439.21 L353.30,439.30 L352.80,439.40 L352.30,439.52 L351.80,439.66 L351.30,439.81 L350.80,439.99 L350.30,440.19 L349.80,440.40 L349.30,440.63 L348.80,440.87 L348.30,441.12 L347.80,441.36 L347.30,441.60 L346.80,441.83 L346.30,442.05 L345.80,442.24 L345.30,442.40 L344.80,442.53 L344.30,442.62 L343.80,442.68 L343.30,442.70 L342.80,442.69 L342.30,442.64 L341.80,442.57 L341.30,442.48 L340.80,442.37 L340.30,442.25 L339.80,442.14 L339.30,442.02 L338.80,441.92 L338.30,441.83 L337.80,441.75 L337.30,441.69 L336.80,441.65 L336.30,441.63 L335.80,441.62 L335.30,441.63 L334.80,441.64 L334.30,441.67 L333.80,441.69 L333.30,441.72 L332.80,441.75 L332.30,441.77 L331.80,441.78 L331.30,441.79 L330.80,441.78 L330.30,441.76 L329.80,441.73 L329.30,441.69 L328.80,441.63 L328.30,441.55 L327.80,441.47 L327.30,441.36 L326.80,441.25 L326.30,441.12 L325.80,440.98 L325.30,440.84 L324.80,440.69 L324.30,440.53 L323.80,440.37 L323.30,440.22 L322.80,440.07 L322.30,439.93 L321.80,439.79 L321.30,439.66 L320.80,439.55 L320.30,439.44 L319.80,439.35 L319.30,439.27 L318.80,439.20 L318.30,439.14 L317.80,439.09 L317.30,439.05 L316.80,439.02 Z" fill="#22c022" stroke="#1a1a1a" stroke-width="0.55"/>
<circle cx="327.40" cy="440.30" r="3.30" fill="#19a819" stroke="#111" stroke-width="0.6"/>
<circle cx="333.80" cy="437.40" r="3.30" fill="#19a819" stroke="#111" stroke-width="0.6"/>
<circle cx="343.40" cy="441.10" r="3.30" fill="#19a819" stroke="#111" stroke-width="0.6"/>
<circle cx="344.20" cy="437.40" r="3.30" fill="#19a819" stroke="#111" stroke-width="0.6"/>
<path d="M301.00,452.28 L301.50,452.28 L302.00,452.28 L302.50,452.28 L303.00,452.28 L303.50,452.28 L304.00,452.28 L304.50,452.28 L305.00,452.28 L305.50,452.28 L306.00,452.28 L306.50,452.28 L307.00,452.28 L307.50,452.25 L308.00,452.21 L308.50,452.15 L309.00,452.08 L309.50,452.00 L310.00,451.90 L310.50,451.78 L311.00,451.65 L311.50,451.49 L312.00,451.31 L312.50,451.11 L313.00,450.89 L313.50,450.65 L314.00,450.40 L314.50,450.12 L315.00,449.84 L315.50,449.56 L316.00,449.27 L316.50,449.00 L317.00,448.74 L317.50,448.49 L318.00,448.28 L318.50,448.10 L319.00,447.96 L319.50,447.86 L320.00,447.80 L320.50,447.80 L321.00,447.84 L321.50,447.93 L322.00,448.07 L322.50,448.24 L323.00,448.45 L323.50,448.68 L324.00,448.94 L324.50,449.21 L325.00,449.49 L325.50,449.77 L326.00,450.05 L326.50,450.31 L327.00,450.56 L327.50,450.79 L328.00,451.00 L328.50,451.18 L329.00,451.33 L329.50,451.45 L330.00,451.54 L330.50,451.60 L331.00,451.63 L331.50,451.63 L332.00,451.60 L332.50,451.53 L333.00,451.44 L333.50,451.31 L334.00,451.16 L334.50,450.98 L335.00,450.77 L335.50,450.54 L336.00,450.30 L336.50,450.04 L337.00,449.77 L337.50,449.49 L338.00,449.22 L338.50,448.96 L339.00,448.71 L339.50,448.48 L340.00,448.28 L340.50,448.12 L341.00,447.99 L341.50,447.90 L342.00,447.86 L342.50,447.87 L343.00,447.92 L343.50,448.01 L344.00,448.15 L344.50,448.32 L345.00,448.53 L345.50,448.76 L346.00,449.02 L346.50,449.28 L347.00,449.56 L347.50,449.84 L348.00,450.11 L348.50,450.38 L349.00,450.63 L349.50,450.87 L350.00,451.09 L350.50,451.29 L351.00,451.46 L351.50,451.62 L352.00,451.76 L352.50,451.88 L353.00,451.98 L353.50,452.07 L354.00,452.14 L354.50,452.19 L355.00,452.24 L355.50,452.28 L356.00,452.28 L356.50,452.28 L357.00,452.28 L357.50,452.28 L358.00,452.28 L358.50,452.28 L359.00,452.28 L359.50,452.28 L360.00,452.28 L360.50,452.28 L361.00,452.28 L361.50,452.28 L361.50,452.52 L361.00,452.52 L360.50,452.52 L360.00,452.52 L359.50,452.52 L359.00,452.52 L358.50,452.52 L358.00,452.52 L357.50,452.52 L357.00,452.52 L356.50,452.52 L356.00,452.52 L355.50,452.52 L355.00,452.56 L354.50,452.61 L354.00,452.66 L353.50,452.73 L353.00,452.82 L352.50,452.92 L352.00,453.04 L351.50,453.18 L351.00,453.34 L350.50,453.51 L350.00,453.71 L349.50,453.93 L349.00,454.17 L348.50,454.42 L348.00,454.69 L347.50,454.96 L347.00,455.24 L346.50,455.52 L346.00,455.78 L345.50,456.04 L345.00,456.27 L344.50,456.48 L344.00,456.65 L343.50,456.79 L343.00,456.88 L342.50,456.93 L342.00,456.94 L341.50,456.90 L341.00,456.81 L340.50,456.68 L340.00,456.52 L339.50,456.32 L339.00,456.09 L338.50,455.84 L338.00,455.58 L337.50,455.31 L337.00,455.03 L336.50,454.76 L336.00,454.50 L335.50,454.26 L335.00,454.03 L334.50,453.82 L334.00,453.64 L333.50,453.49 L333.00,453.36 L332.50,453.27 L332.00,453.20 L331.50,453.17 L331.00,453.17 L330.50,453.20 L330.00,453.26 L329.50,453.35 L329.00,453.47 L328.50,453.62 L328.00,453.80 L327.50,454.01 L327.00,454.24 L326.50,454.49 L326.00,454.75 L325.50,455.03 L325.00,455.31 L324.50,455.59 L324.00,455.86 L323.50,456.12 L323.00,456.35 L322.50,456.56 L322.00,456.73 L321.50,456.87 L321.00,456.96 L320.50,457.00 L320.00,457.00 L319.50,456.94 L319.00,456.84 L318.50,456.70 L318.00,456.52 L317.50,456.31 L317.00,456.06 L316.50,455.80 L316.00,455.53 L315.50,455.24 L315.00,454.96 L314.50,454.68 L314.00,454.40 L313.50,454.15 L313.00,453.91 L312.50,453.69 L312.00,453.49 L311.50,453.31 L311.00,453.15 L310.50,453.02 L310.00,452.90 L309.50,452.80 L309.00,452.72 L308.50,452.65 L308.00,452.59 L307.50,452.55 L307.00,452.52 L306.50,452.52 L306.00,452.52 L305.50,452.52 L305.00,452.52 L304.50,452.52 L304.00,452.52 L303.50,452.52 L303.00,452.52 L302.50,452.52 L302.00,452.52 L301.50,452.52 L301.00,452.52 Z" fill="#c3c7f6" stroke="#1a1a1a" stroke-width="0.55"/>
<circle cx="321.20" cy="451.00" r="3.30" fill="#229ef2" stroke="#111" stroke-width="0.6"/>
<circle cx="319.10" cy="454.30" r="3.30" fill="#229ef2" stroke="#111" stroke-width="0.6"/>
<circle cx="343.40" cy="450.60" r="3.30" fill="#229ef2" stroke="#111" stroke-width="0.6"/>
<circle cx="341.00" cy="453.90" r="3.30" fill="#229ef2" stroke="#111" stroke-width="0.6"/>
<path d="M316.00,466.28 L316.50,466.28 L317.00,466.28 L317.50,466.28 L318.00,466.28 L318.50,466.26 L319.00,466.22 L319.50,466.17 L320.00,466.10 L320.50,466.03 L321.00,465.95 L321.50,465.85 L322.00,465.73 L322.50,465.60 L323.00,465.45 L323.50,465.29 L324.00,465.11 L324.50,464.92 L325.00,464.71 L325.50,464.49 L326.00,464.26 L326.50,464.03 L327.00,463.80 L327.50,463.56 L328.00,463.34 L328.50,463.12 L329.00,462.91 L329.50,462.72 L330.00,462.56 L330.50,462.42 L331.00,462.31 L331.50,462.24 L332.00,462.20 L332.50,462.20 L333.00,462.24 L333.50,462.31 L334.00,462.42 L334.50,462.56 L335.00,462.74 L335.50,462.93 L336.00,463.15 L336.50,463.39 L337.00,463.63 L337.50,463.88 L338.00,464.12 L338.50,464.36 L339.00,464.58 L339.50,464.79 L340.00,464.97 L340.50,465.13 L341.00,465.26 L341.50,465.36 L342.00,465.44 L342.50,465.49 L343.00,465.51 L343.50,465.51 L344.00,465.48 L344.50,465.44 L345.00,465.38 L345.50,465.31 L346.00,465.23 L346.50,465.14 L347.00,465.06 L347.50,464.98 L348.00,464.91 L348.50,464.85 L349.00,464.81 L349.50,464.78 L350.00,464.78 L350.50,464.79 L351.00,464.82 L351.50,464.87 L352.00,464.93 L352.50,465.01 L353.00,465.10 L353.50,465.20 L354.00,465.31 L354.50,465.42 L355.00,465.53 L355.50,465.63 L356.00,465.73 L356.50,465.83 L357.00,465.92 L357.50,466.00 L358.00,466.07 L358.50,466.13 L359.00,466.18 L359.50,466.23 L360.00,466.26 L360.50,466.28 L361.00,466.28 L361.50,466.28 L362.00,466.28 L362.00,466.52 L361.50,466.52 L361.00,466.52 L360.50,466.52 L360.00,466.54 L359.50,466.57 L359.00,466.62 L358.50,466.67 L358.00,466.73 L357.50,466.80 L357.00,466.88 L356.50,466.97 L356.00,467.07 L355.50,467.17 L355.00,467.27 L354.50,467.38 L354.00,467.49 L353.50,467.60 L353.00,467.70 L352.50,467.79 L352.00,467.87 L351.50,467.93 L351.00,467.98 L350.50,468.01 L350.00,468.02 L349.50,468.02 L349.00,467.99 L348.50,467.95 L348.00,467.89 L347.50,467.82 L347.00,467.74 L346.50,467.66 L346.00,467.57 L345.50,467.49 L345.00,467.42 L344.50,467.36 L344.00,467.32 L343.50,467.29 L343.00,467.29 L342.50,467.31 L342.00,467.36 L341.50,467.44 L341.00,467.54 L340.50,467.67 L340.00,467.83 L339.50,468.01 L339.00,468.22 L338.50,468.44 L338.00,468.68 L337.50,468.92 L337.00,469.17 L336.50,469.41 L336.00,469.65 L335.50,469.87 L335.00,470.06 L334.50,470.24 L334.00,470.38 L333.50,470.49 L333.00,470.56 L332.50,470.60 L332.00,470.60 L331.50,470.56 L331.00,470.49 L330.50,470.38 L330.00,470.24 L329.50,470.08 L329.00,469.89 L328.50,469.68 L328.00,469.46 L327.50,469.24 L327.00,469.00 L326.50,468.77 L326.00,468.54 L325.50,468.31 L325.00,468.09 L324.50,467.88 L324.00,467.69 L323.50,467.51 L323.00,467.35 L322.50,467.20 L322.00,467.07 L321.50,466.95 L321.00,466.85 L320.50,466.77 L320.00,466.70 L319.50,466.63 L319.00,466.58 L318.50,466.54 L318.00,466.52 L317.50,466.52 L317.00,466.52 L316.50,466.52 L316.00,466.52 Z" fill="#21aa21" stroke="#1a1a1a" stroke-width="0.55"/>
<circle cx="328.60" cy="467.50" r="3.30" fill="#147a1e" stroke="#111" stroke-width="0.6"/>
<circle cx="334.40" cy="464.60" r="3.30" fill="#147a1e" stroke="#111" stroke-width="0.6"/>
<circle cx="333.00" cy="468.00" r="3.30" fill="#147a1e" stroke="#111" stroke-width="0.6"/>
<circle cx="350.00" cy="465.80" r="3.30" fill="#147a1e" stroke="#111" stroke-width="0.6"/>
<text x="342.8" y="507.0" font-size="11" text-anchor="middle" fill="#111" stroke="#111" stroke-width="0.22">SFU/10<tspan font-size="7.8" dy="-4.0">6</tspan><tspan dy="4.0"> Splenocytes</tspan></text>
<text x="473.60" y="327.80" font-size="17.5" text-anchor="start" font-weight="bold" font-style="normal" fill="#000" stroke="#000" stroke-width="0" >g</text>
<line x1="499.50" y1="340.90" x2="619.30" y2="340.90" stroke="#a8a8a8" stroke-width="1.0" />
<line x1="495.00" y1="340.90" x2="499.50" y2="340.90" stroke="#777" stroke-width="0.8" />
<text x="494.00" y="344.50" font-size="10.3" text-anchor="end" font-weight="normal" font-style="normal" fill="#111" stroke="#111" stroke-width="0.22" >Ctrl LV</text>
<line x1="499.50" y1="356.37" x2="619.30" y2="356.37" stroke="#a8a8a8" stroke-width="1.0" />
<line x1="495.00" y1="356.37" x2="499.50" y2="356.37" stroke="#777" stroke-width="0.8" />
<text x="494.00" y="359.97" font-size="10.3" text-anchor="end" font-weight="normal" font-style="normal" fill="#111" stroke="#111" stroke-width="0.22" >LV::Conca</text>
<line x1="499.50" y1="371.84" x2="619.30" y2="371.84" stroke="#a8a8a8" stroke-width="1.0" />
<line x1="495.00" y1="371.84" x2="499.50" y2="371.84" stroke="#777" stroke-width="0.8" />
<text x="494.00" y="375.44" font-size="10.3" text-anchor="end" font-weight="normal" font-style="normal" fill="#111" stroke="#111" stroke-width="0.22" >LV::G7</text>
<line x1="499.50" y1="387.31" x2="619.30" y2="387.31" stroke="#a8a8a8" stroke-width="1.0" />
<line x1="495.00" y1="387.31" x2="499.50" y2="387.31" stroke="#777" stroke-width="0.8" />
<text x="494.00" y="390.91" font-size="10.3" text-anchor="end" font-weight="normal" font-style="normal" fill="#111" stroke="#111" stroke-width="0.22" >LV::A7</text>
<line x1="499.50" y1="402.78" x2="619.30" y2="402.78" stroke="#a8a8a8" stroke-width="1.0" />
<line x1="495.00" y1="402.78" x2="499.50" y2="402.78" stroke="#777" stroke-width="0.8" />
<text x="494.00" y="406.38" font-size="10.3" text-anchor="end" font-weight="normal" font-style="normal" fill="#111" stroke="#111" stroke-width="0.22" >LV::S7</text>
<line x1="499.50" y1="418.25" x2="619.30" y2="418.25" stroke="#a8a8a8" stroke-width="1.0" />
<line x1="495.00" y1="418.25" x2="499.50" y2="418.25" stroke="#777" stroke-width="0.8" />
<text x="494.00" y="421.85" font-size="10.3" text-anchor="end" font-weight="normal" font-style="normal" fill="#111" stroke="#111" stroke-width="0.22" >LV::A7-PEST</text>
<line x1="499.50" y1="433.72" x2="619.30" y2="433.72" stroke="#a8a8a8" stroke-width="1.0" />
<line x1="495.00" y1="433.72" x2="499.50" y2="433.72" stroke="#777" stroke-width="0.8" />
<text x="494.00" y="437.32" font-size="10.3" text-anchor="end" font-weight="normal" font-style="normal" fill="#111" stroke="#111" stroke-width="0.22" >LV::S7-PEST</text>
<line x1="499.50" y1="449.19" x2="619.30" y2="449.19" stroke="#a8a8a8" stroke-width="1.0" />
<line x1="495.00" y1="449.19" x2="499.50" y2="449.19" stroke="#777" stroke-width="0.8" />
<text x="494.00" y="452.79" font-size="10.3" text-anchor="end" font-weight="normal" font-style="normal" fill="#111" stroke="#111" stroke-width="0.22" >LV::UB-A7</text>
<line x1="499.50" y1="464.66" x2="619.30" y2="464.66" stroke="#a8a8a8" stroke-width="1.0" />
<line x1="495.00" y1="464.66" x2="499.50" y2="464.66" stroke="#777" stroke-width="0.8" />
<text x="494.00" y="468.26" font-size="10.3" text-anchor="end" font-weight="normal" font-style="normal" fill="#111" stroke="#111" stroke-width="0.22" >LV::UB-S7</text>
<rect x="499.50" y="351.37" width="55.00" height="10.00" fill="#dcd9aa" stroke="#2a2a2a" stroke-width="0.6" />
<rect x="554.50" y="351.37" width="5.70" height="10.00" fill="#6aa640" stroke="#2a2a2a" stroke-width="0.6" />
<rect x="560.20" y="351.37" width="6.30" height="10.00" fill="#72a9dc" stroke="#2a2a2a" stroke-width="0.6" />
<rect x="499.50" y="366.84" width="22.80" height="10.00" fill="#dcd9aa" stroke="#2a2a2a" stroke-width="0.6" />
<rect x="522.30" y="366.84" width="36.00" height="10.00" fill="#6aa640" stroke="#2a2a2a" stroke-width="0.6" />
<rect x="558.30" y="366.84" width="6.70" height="10.00" fill="#72a9dc" stroke="#2a2a2a" stroke-width="0.6" />
<rect x="565.00" y="366.84" width="7.90" height="10.00" fill="#6e6e6e" stroke="#2a2a2a" stroke-width="0.6" />
<rect x="499.50" y="382.31" width="9.10" height="10.00" fill="#b3b3b3" stroke="#2a2a2a" stroke-width="0.6" />
<rect x="508.60" y="382.31" width="40.60" height="10.00" fill="#dcd9aa" stroke="#2a2a2a" stroke-width="0.6" />
<rect x="549.20" y="382.31" width="20.10" height="10.00" fill="#6aa640" stroke="#2a2a2a" stroke-width="0.6" />
<rect x="569.30" y="382.31" width="22.20" height="10.00" fill="#72a9dc" stroke="#2a2a2a" stroke-width="0.6" />
<rect x="591.50" y="382.31" width="20.00" height="10.00" fill="#6e6e6e" stroke="#2a2a2a" stroke-width="0.6" />
<rect x="499.50" y="397.78" width="1.50" height="10.00" fill="#b3b3b3" stroke="#2a2a2a" stroke-width="0.6" />
<rect x="501.00" y="397.78" width="27.90" height="10.00" fill="#dcd9aa" stroke="#2a2a2a" stroke-width="0.6" />
<rect x="528.90" y="397.78" width="3.20" height="10.00" fill="#6aa640" stroke="#2a2a2a" stroke-width="0.6" />
<rect x="532.10" y="397.78" width="3.80" height="10.00" fill="#72a9dc" stroke="#2a2a2a" stroke-width="0.6" />
<rect x="535.90" y="397.78" width="3.10" height="10.00" fill="#6e6e6e" stroke="#2a2a2a" stroke-width="0.6" />
<rect x="499.50" y="413.25" width="4.20" height="10.00" fill="#b3b3b3" stroke="#2a2a2a" stroke-width="0.6" />
<rect x="503.70" y="413.25" width="3.80" height="10.00" fill="#d5743a" stroke="#2a2a2a" stroke-width="0.6" />
<rect x="507.50" y="413.25" width="23.90" height="10.00" fill="#dcd9aa" stroke="#2a2a2a" stroke-width="0.6" />
<rect x="531.40" y="413.25" width="11.70" height="10.00" fill="#6aa640" stroke="#2a2a2a" stroke-width="0.6" />
<rect x="543.10" y="413.25" width="10.10" height="10.00" fill="#72a9dc" stroke="#2a2a2a" stroke-width="0.6" />
<rect x="553.20" y="413.25" width="12.30" height="10.00" fill="#6e6e6e" stroke="#2a2a2a" stroke-width="0.6" />
<rect x="499.50" y="428.72" width="4.20" height="10.00" fill="#b3b3b3" stroke="#2a2a2a" stroke-width="0.6" />
<rect x="503.70" y="428.72" width="36.00" height="10.00" fill="#dcd9aa" stroke="#2a2a2a" stroke-width="0.6" />
<rect x="539.70" y="428.72" width="26.80" height="10.00" fill="#6aa640" stroke="#2a2a2a" stroke-width="0.6" />
<rect x="566.50" y="428.72" width="23.10" height="10.00" fill="#72a9dc" stroke="#2a2a2a" stroke-width="0.6" />
<rect x="589.60" y="428.72" width="23.20" height="10.00" fill="#6e6e6e" stroke="#2a2a2a" stroke-width="0.6" />
<rect x="499.50" y="444.19" width="1.90" height="10.00" fill="#b3b3b3" stroke="#2a2a2a" stroke-width="0.6" />
<rect x="501.40" y="444.19" width="2.80" height="10.00" fill="#f7a9ab" stroke="#2a2a2a" stroke-width="0.6" />
<rect x="504.20" y="444.19" width="2.50" height="10.00" fill="#d5743a" stroke="#2a2a2a" stroke-width="0.6" />
<rect x="506.70" y="444.19" width="25.40" height="10.00" fill="#dcd9aa" stroke="#2a2a2a" stroke-width="0.6" />
<rect x="532.10" y="444.19" width="31.50" height="10.00" fill="#6aa640" stroke="#2a2a2a" stroke-width="0.6" />
<rect x="563.60" y="444.19" width="8.00" height="10.00" fill="#72a9dc" stroke="#2a2a2a" stroke-width="0.6" />
<rect x="571.60" y="444.19" width="6.30" height="10.00" fill="#6e6e6e" stroke="#2a2a2a" stroke-width="0.6" />
<rect x="499.50" y="459.66" width="1.90" height="10.00" fill="#b3b3b3" stroke="#2a2a2a" stroke-width="0.6" />
<rect x="501.40" y="459.66" width="31.90" height="10.00" fill="#dcd9aa" stroke="#2a2a2a" stroke-width="0.6" />
<rect x="533.30" y="459.66" width="42.50" height="10.00" fill="#6aa640" stroke="#2a2a2a" stroke-width="0.6" />
<rect x="575.80" y="459.66" width="9.10" height="10.00" fill="#72a9dc" stroke="#2a2a2a" stroke-width="0.6" />
<rect x="584.90" y="459.66" width="7.60" height="10.00" fill="#6e6e6e" stroke="#2a2a2a" stroke-width="0.6" />
<line x1="499.50" y1="331.40" x2="499.50" y2="473.80" stroke="#333" stroke-width="0.9" />
<line x1="499.50" y1="473.80" x2="619.30" y2="473.80" stroke="#333" stroke-width="0.9" />
<line x1="499.50" y1="473.80" x2="499.50" y2="477.30" stroke="#333" stroke-width="0.9" />
<text x="499.50" y="489.40" font-size="10.5" text-anchor="middle" font-weight="normal" font-style="normal" fill="#111" stroke="#111" stroke-width="0.22" >0</text>
<line x1="529.45" y1="473.80" x2="529.45" y2="477.30" stroke="#333" stroke-width="0.9" />
<text x="529.45" y="489.40" font-size="10.5" text-anchor="middle" font-weight="normal" font-style="normal" fill="#111" stroke="#111" stroke-width="0.22" >2000</text>
<line x1="559.40" y1="473.80" x2="559.40" y2="477.30" stroke="#333" stroke-width="0.9" />
<text x="559.40" y="489.40" font-size="10.5" text-anchor="middle" font-weight="normal" font-style="normal" fill="#111" stroke="#111" stroke-width="0.22" >4000</text>
<line x1="589.35" y1="473.80" x2="589.35" y2="477.30" stroke="#333" stroke-width="0.9" />
<text x="589.35" y="489.40" font-size="10.5" text-anchor="middle" font-weight="normal" font-style="normal" fill="#111" stroke="#111" stroke-width="0.22" >6000</text>
<line x1="619.30" y1="473.80" x2="619.30" y2="477.30" stroke="#333" stroke-width="0.9" />
<text x="619.30" y="489.40" font-size="10.5" text-anchor="middle" font-weight="normal" font-style="normal" fill="#111" stroke="#111" stroke-width="0.22" >8000</text>
<text x="559.4" y="504.0" font-size="10.6" text-anchor="middle" fill="#111" stroke="#111" stroke-width="0.22">SFU/10<tspan font-size="7.8" dy="-4.0">6</tspan><tspan dy="4.0"> Splenocytes</tspan></text>
<rect x="638.60" y="377.30" width="11.20" height="8.00" fill="#b3b3b3" stroke="#333" stroke-width="0.7" />
<text x="655.00" y="384.90" font-size="10.1" text-anchor="start" font-weight="normal" font-style="normal" fill="#111" stroke="#111" stroke-width="0.22" >Irgq</text>
<rect x="638.60" y="390.58" width="11.20" height="8.00" fill="#f7a9ab" stroke="#333" stroke-width="0.7" />
<text x="655.00" y="398.18" font-size="10.1" text-anchor="start" font-weight="normal" font-style="normal" fill="#111" stroke="#111" stroke-width="0.22" >Dpagt1</text>
<rect x="638.60" y="403.86" width="11.20" height="8.00" fill="#d5743a" stroke="#333" stroke-width="0.7" />
<text x="655.00" y="411.46" font-size="10.1" text-anchor="start" font-weight="normal" font-style="normal" fill="#111" stroke="#111" stroke-width="0.22" >Aatf</text>
<rect x="638.60" y="417.14" width="11.20" height="8.00" fill="#dcd9aa" stroke="#333" stroke-width="0.7" />
<text x="655.00" y="424.74" font-size="10.1" text-anchor="start" font-weight="normal" font-style="normal" fill="#111" stroke="#111" stroke-width="0.22" >Cpne1</text>
<rect x="638.60" y="430.42" width="11.20" height="8.00" fill="#72a9dc" stroke="#333" stroke-width="0.7" />
<text x="655.00" y="438.02" font-size="10.1" text-anchor="start" font-weight="normal" font-style="normal" fill="#111" stroke="#111" stroke-width="0.22" >Adpgk</text>
<rect x="638.60" y="443.70" width="11.20" height="8.00" fill="#6aa640" stroke="#333" stroke-width="0.7" />
<text x="655.00" y="451.30" font-size="10.1" text-anchor="start" font-weight="normal" font-style="normal" fill="#111" stroke="#111" stroke-width="0.22" >Reps1</text>
<rect x="638.60" y="456.98" width="11.20" height="8.00" fill="#6e6e6e" stroke="#333" stroke-width="0.7" />
<text x="655.00" y="464.58" font-size="10.1" text-anchor="start" font-weight="normal" font-style="normal" fill="#111" stroke="#111" stroke-width="0.22" >Med12</text>
</svg>
</body></html>
